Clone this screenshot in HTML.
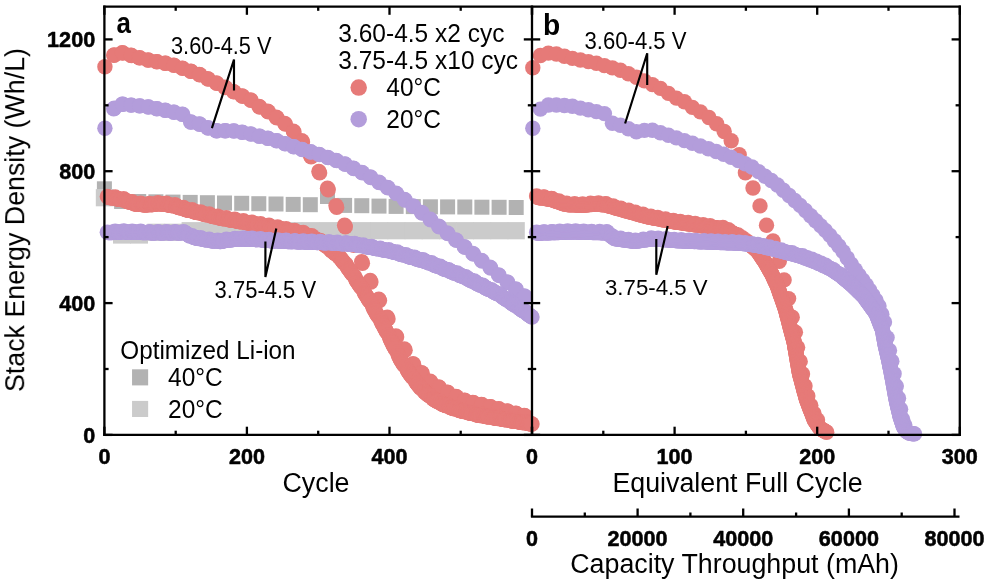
<!DOCTYPE html>
<html><head><meta charset="utf-8"><title>Stack energy density</title>
<style>html,body{margin:0;padding:0;background:#fff}svg{display:block}</style></head>
<body><svg width="986" height="588" viewBox="0 0 986 588">
<rect width="986" height="588" fill="#fff"/>
<g fill="#b2b2b2"><rect x="96.9" y="181.3" width="15.0" height="15.0"/><rect x="114.1" y="194.0" width="15.0" height="15.0"/><rect x="131.2" y="194.0" width="15.0" height="15.0"/><rect x="148.4" y="194.3" width="15.0" height="15.0"/><rect x="165.5" y="194.6" width="15.0" height="15.0"/><rect x="182.7" y="194.9" width="15.0" height="15.0"/><rect x="199.9" y="195.2" width="15.0" height="15.0"/><rect x="217.0" y="195.5" width="15.0" height="15.0"/><rect x="234.2" y="195.8" width="15.0" height="15.0"/><rect x="251.3" y="196.2" width="15.0" height="15.0"/><rect x="268.5" y="196.5" width="15.0" height="15.0"/><rect x="285.7" y="196.9" width="15.0" height="15.0"/><rect x="302.8" y="197.2" width="15.0" height="15.0"/><rect x="320.0" y="189.0" width="15.0" height="15.0"/><rect x="337.1" y="197.9" width="15.0" height="15.0"/><rect x="354.3" y="198.2" width="15.0" height="15.0"/><rect x="371.5" y="198.6" width="15.0" height="15.0"/><rect x="388.6" y="198.9" width="15.0" height="15.0"/><rect x="405.8" y="199.1" width="15.0" height="15.0"/><rect x="422.9" y="199.3" width="15.0" height="15.0"/><rect x="440.1" y="199.4" width="15.0" height="15.0"/><rect x="457.3" y="199.5" width="15.0" height="15.0"/><rect x="474.4" y="199.7" width="15.0" height="15.0"/><rect x="491.6" y="199.8" width="15.0" height="15.0"/><rect x="508.7" y="200.0" width="15.0" height="15.0"/></g><g fill="#cbcbcb"><rect x="95.8" y="189.1" width="17.9" height="17.2"/><rect x="113.0" y="226.4" width="17.9" height="17.2"/><rect x="130.1" y="226.4" width="17.9" height="17.2"/><rect x="147.3" y="223.7" width="17.9" height="17.2"/><rect x="164.4" y="223.7" width="17.9" height="17.2"/><rect x="181.6" y="222.1" width="17.9" height="17.2"/><rect x="198.8" y="222.1" width="17.9" height="17.2"/><rect x="215.9" y="222.1" width="17.9" height="17.2"/><rect x="233.1" y="222.1" width="17.9" height="17.2"/><rect x="250.2" y="222.1" width="17.9" height="17.2"/><rect x="267.4" y="222.1" width="17.9" height="17.2"/><rect x="284.6" y="222.1" width="17.9" height="17.2"/><rect x="301.7" y="222.1" width="17.9" height="17.2"/><rect x="318.9" y="222.1" width="17.9" height="17.2"/><rect x="336.0" y="222.1" width="17.9" height="17.2"/><rect x="353.2" y="222.1" width="17.9" height="17.2"/><rect x="370.4" y="222.1" width="17.9" height="17.2"/><rect x="387.5" y="222.1" width="17.9" height="17.2"/><rect x="404.7" y="222.1" width="17.9" height="17.2"/><rect x="421.8" y="222.1" width="17.9" height="17.2"/><rect x="439.0" y="222.1" width="17.9" height="17.2"/><rect x="456.2" y="222.1" width="17.9" height="17.2"/><rect x="473.3" y="222.1" width="17.9" height="17.2"/><rect x="490.5" y="222.1" width="17.9" height="17.2"/><rect x="507.6" y="222.1" width="17.2" height="17.2"/></g><circle cx="104.9" cy="66.8" r="7.7" fill="#e67a78"/><g fill="#e67a78"><circle cx="113.7" cy="55.3" r="7.7"/><circle cx="114.4" cy="55.0" r="7.7"/><circle cx="122.2" cy="52.8" r="7.7"/><circle cx="122.9" cy="53.0" r="7.7"/><circle cx="130.8" cy="55.3" r="7.7"/><circle cx="131.5" cy="55.5" r="7.7"/><circle cx="139.3" cy="57.7" r="7.7"/><circle cx="140.0" cy="57.9" r="7.7"/><circle cx="147.9" cy="60.0" r="7.7"/><circle cx="148.6" cy="60.1" r="7.7"/><circle cx="156.4" cy="61.6" r="7.7"/><circle cx="157.1" cy="61.7" r="7.7"/><circle cx="165.0" cy="63.2" r="7.7"/><circle cx="165.7" cy="63.3" r="7.7"/><circle cx="173.5" cy="65.1" r="7.7"/><circle cx="174.2" cy="65.4" r="7.7"/><circle cx="182.1" cy="68.1" r="7.7"/><circle cx="182.8" cy="68.4" r="7.7"/><circle cx="190.6" cy="71.2" r="7.7"/><circle cx="191.3" cy="71.4" r="7.7"/><circle cx="199.2" cy="74.5" r="7.7"/><circle cx="199.9" cy="74.8" r="7.7"/><circle cx="207.7" cy="78.7" r="7.7"/><circle cx="208.4" cy="79.1" r="7.7"/><circle cx="216.3" cy="83.0" r="7.7"/><circle cx="217.0" cy="83.4" r="7.7"/><circle cx="224.8" cy="87.3" r="7.7"/><circle cx="225.6" cy="87.6" r="7.7"/><circle cx="233.4" cy="91.6" r="7.7"/><circle cx="234.1" cy="91.9" r="7.7"/><circle cx="241.9" cy="95.9" r="7.7"/><circle cx="242.7" cy="96.2" r="7.7"/><circle cx="250.5" cy="100.0" r="7.7"/><circle cx="251.2" cy="100.4" r="7.7"/><circle cx="259.0" cy="106.5" r="7.7"/><circle cx="259.8" cy="107.0" r="7.7"/><circle cx="267.6" cy="111.2" r="7.7"/><circle cx="268.3" cy="111.7" r="7.7"/><circle cx="276.2" cy="117.2" r="7.7"/><circle cx="276.9" cy="117.8" r="7.7"/><circle cx="284.7" cy="123.5" r="7.7"/><circle cx="285.4" cy="124.1" r="7.7"/><circle cx="293.3" cy="131.1" r="7.7"/><circle cx="294.0" cy="131.9" r="7.7"/><circle cx="301.8" cy="140.7" r="7.7"/><circle cx="302.5" cy="141.9" r="7.7"/><circle cx="310.4" cy="155.3" r="7.7"/><circle cx="311.1" cy="156.7" r="7.7"/><circle cx="318.9" cy="171.5" r="7.7"/><circle cx="319.6" cy="172.9" r="7.7"/><circle cx="327.5" cy="188.3" r="7.7"/><circle cx="328.2" cy="189.8" r="7.7"/><circle cx="336.0" cy="205.8" r="7.7"/><circle cx="336.7" cy="207.4" r="7.7"/><circle cx="344.6" cy="225.2" r="7.7"/><circle cx="345.3" cy="226.7" r="7.7"/><circle cx="353.1" cy="243.7" r="7.7"/><circle cx="353.8" cy="245.2" r="7.7"/><circle cx="361.7" cy="261.6" r="7.7"/><circle cx="362.4" cy="263.2" r="7.7"/><circle cx="370.2" cy="280.5" r="7.7"/><circle cx="370.9" cy="282.0" r="7.7"/><circle cx="378.8" cy="299.1" r="7.7"/><circle cx="379.5" cy="300.6" r="7.7"/><circle cx="387.3" cy="317.3" r="7.7"/><circle cx="388.0" cy="318.9" r="7.7"/><circle cx="395.9" cy="335.9" r="7.7"/><circle cx="396.6" cy="337.0" r="7.7"/><circle cx="404.4" cy="348.9" r="7.7"/><circle cx="405.1" cy="350.2" r="7.7"/><circle cx="413.0" cy="363.8" r="7.7"/><circle cx="413.7" cy="364.5" r="7.7"/><circle cx="421.5" cy="372.6" r="7.7"/><circle cx="422.2" cy="373.3" r="7.7"/><circle cx="430.1" cy="381.2" r="7.7"/><circle cx="430.8" cy="381.9" r="7.7"/><circle cx="438.6" cy="386.9" r="7.7"/><circle cx="439.4" cy="387.4" r="7.7"/><circle cx="447.2" cy="392.1" r="7.7"/><circle cx="447.9" cy="392.5" r="7.7"/><circle cx="455.7" cy="396.4" r="7.7"/><circle cx="456.5" cy="396.8" r="7.7"/><circle cx="464.3" cy="400.3" r="7.7"/><circle cx="465.0" cy="400.5" r="7.7"/><circle cx="472.8" cy="402.4" r="7.7"/><circle cx="473.6" cy="402.6" r="7.7"/><circle cx="481.4" cy="404.5" r="7.7"/><circle cx="482.1" cy="404.7" r="7.7"/><circle cx="490.0" cy="406.6" r="7.7"/><circle cx="490.7" cy="406.8" r="7.7"/><circle cx="498.5" cy="408.7" r="7.7"/><circle cx="499.2" cy="408.9" r="7.7"/><circle cx="507.1" cy="410.9" r="7.7"/><circle cx="507.8" cy="411.1" r="7.7"/><circle cx="515.6" cy="413.2" r="7.7"/><circle cx="516.3" cy="413.4" r="7.7"/><circle cx="524.2" cy="415.5" r="7.7"/><circle cx="524.9" cy="415.7" r="7.7"/></g><g fill="#e67a78"><circle cx="107.3" cy="196.4" r="7.7"/><circle cx="108.0" cy="197.1" r="7.7"/><circle cx="108.7" cy="197.3" r="7.7"/><circle cx="109.4" cy="197.4" r="7.7"/><circle cx="110.1" cy="197.5" r="7.7"/><circle cx="110.8" cy="197.7" r="7.7"/><circle cx="111.5" cy="197.8" r="7.7"/><circle cx="112.2" cy="197.9" r="7.7"/><circle cx="113.0" cy="198.0" r="7.7"/><circle cx="115.1" cy="197.0" r="7.7"/><circle cx="115.8" cy="198.0" r="7.7"/><circle cx="116.5" cy="198.7" r="7.7"/><circle cx="117.2" cy="198.8" r="7.7"/><circle cx="117.9" cy="199.0" r="7.7"/><circle cx="118.7" cy="199.1" r="7.7"/><circle cx="119.4" cy="199.2" r="7.7"/><circle cx="120.1" cy="199.4" r="7.7"/><circle cx="120.8" cy="199.5" r="7.7"/><circle cx="121.5" cy="199.6" r="7.7"/><circle cx="123.6" cy="198.8" r="7.7"/><circle cx="124.4" cy="199.8" r="7.7"/><circle cx="125.1" cy="200.6" r="7.7"/><circle cx="125.8" cy="200.9" r="7.7"/><circle cx="126.5" cy="201.1" r="7.7"/><circle cx="127.2" cy="201.3" r="7.7"/><circle cx="127.9" cy="201.6" r="7.7"/><circle cx="128.6" cy="201.8" r="7.7"/><circle cx="129.3" cy="202.0" r="7.7"/><circle cx="130.1" cy="202.3" r="7.7"/><circle cx="132.2" cy="201.6" r="7.7"/><circle cx="132.9" cy="202.6" r="7.7"/><circle cx="133.6" cy="203.4" r="7.7"/><circle cx="134.3" cy="203.7" r="7.7"/><circle cx="135.0" cy="203.9" r="7.7"/><circle cx="135.8" cy="204.0" r="7.7"/><circle cx="136.5" cy="204.1" r="7.7"/><circle cx="137.2" cy="204.2" r="7.7"/><circle cx="137.9" cy="204.2" r="7.7"/><circle cx="138.6" cy="204.3" r="7.7"/><circle cx="140.7" cy="203.1" r="7.7"/><circle cx="141.5" cy="203.9" r="7.7"/><circle cx="142.2" cy="204.6" r="7.7"/><circle cx="142.9" cy="204.7" r="7.7"/><circle cx="143.6" cy="204.7" r="7.7"/><circle cx="144.3" cy="204.8" r="7.7"/><circle cx="145.0" cy="204.8" r="7.7"/><circle cx="145.7" cy="204.9" r="7.7"/><circle cx="146.4" cy="205.0" r="7.7"/><circle cx="147.2" cy="205.0" r="7.7"/><circle cx="149.3" cy="203.4" r="7.7"/><circle cx="150.0" cy="204.1" r="7.7"/><circle cx="150.7" cy="204.7" r="7.7"/><circle cx="151.4" cy="204.6" r="7.7"/><circle cx="152.1" cy="204.6" r="7.7"/><circle cx="152.9" cy="204.5" r="7.7"/><circle cx="153.6" cy="204.4" r="7.7"/><circle cx="154.3" cy="204.4" r="7.7"/><circle cx="155.0" cy="204.3" r="7.7"/><circle cx="155.7" cy="204.3" r="7.7"/><circle cx="157.9" cy="202.7" r="7.7"/><circle cx="158.6" cy="203.4" r="7.7"/><circle cx="159.3" cy="204.0" r="7.7"/><circle cx="160.0" cy="203.9" r="7.7"/><circle cx="160.7" cy="203.9" r="7.7"/><circle cx="161.4" cy="203.8" r="7.7"/><circle cx="162.1" cy="203.9" r="7.7"/><circle cx="162.8" cy="204.0" r="7.7"/><circle cx="163.6" cy="204.2" r="7.7"/><circle cx="164.3" cy="204.3" r="7.7"/><circle cx="166.4" cy="203.2" r="7.7"/><circle cx="167.1" cy="204.2" r="7.7"/><circle cx="167.8" cy="204.9" r="7.7"/><circle cx="168.5" cy="205.0" r="7.7"/><circle cx="169.3" cy="205.1" r="7.7"/><circle cx="170.0" cy="205.2" r="7.7"/><circle cx="170.7" cy="205.4" r="7.7"/><circle cx="171.4" cy="205.5" r="7.7"/><circle cx="172.1" cy="205.6" r="7.7"/><circle cx="172.8" cy="205.7" r="7.7"/><circle cx="175.0" cy="204.8" r="7.7"/><circle cx="175.7" cy="205.8" r="7.7"/><circle cx="176.4" cy="206.6" r="7.7"/><circle cx="177.1" cy="206.8" r="7.7"/><circle cx="177.8" cy="207.0" r="7.7"/><circle cx="178.5" cy="207.3" r="7.7"/><circle cx="179.2" cy="207.5" r="7.7"/><circle cx="179.9" cy="207.7" r="7.7"/><circle cx="180.7" cy="207.9" r="7.7"/><circle cx="181.4" cy="208.1" r="7.7"/><circle cx="183.5" cy="207.4" r="7.7"/><circle cx="184.2" cy="208.4" r="7.7"/><circle cx="184.9" cy="209.2" r="7.7"/><circle cx="185.6" cy="209.5" r="7.7"/><circle cx="186.4" cy="209.7" r="7.7"/><circle cx="187.1" cy="209.9" r="7.7"/><circle cx="187.8" cy="210.1" r="7.7"/><circle cx="188.5" cy="210.3" r="7.7"/><circle cx="189.2" cy="210.4" r="7.7"/><circle cx="189.9" cy="210.6" r="7.7"/><circle cx="192.1" cy="209.8" r="7.7"/><circle cx="192.8" cy="210.7" r="7.7"/><circle cx="193.5" cy="211.5" r="7.7"/><circle cx="194.2" cy="211.7" r="7.7"/><circle cx="194.9" cy="211.9" r="7.7"/><circle cx="195.6" cy="212.0" r="7.7"/><circle cx="196.3" cy="212.2" r="7.7"/><circle cx="197.0" cy="212.4" r="7.7"/><circle cx="197.8" cy="212.6" r="7.7"/><circle cx="198.5" cy="212.7" r="7.7"/><circle cx="200.6" cy="211.9" r="7.7"/><circle cx="201.3" cy="212.8" r="7.7"/><circle cx="202.0" cy="213.6" r="7.7"/><circle cx="202.7" cy="213.8" r="7.7"/><circle cx="203.5" cy="214.0" r="7.7"/><circle cx="204.2" cy="214.1" r="7.7"/><circle cx="204.9" cy="214.3" r="7.7"/><circle cx="205.6" cy="214.5" r="7.7"/><circle cx="206.3" cy="214.7" r="7.7"/><circle cx="207.0" cy="214.8" r="7.7"/><circle cx="209.2" cy="214.0" r="7.7"/><circle cx="209.9" cy="214.9" r="7.7"/><circle cx="210.6" cy="215.7" r="7.7"/><circle cx="211.3" cy="215.9" r="7.7"/><circle cx="212.0" cy="216.1" r="7.7"/><circle cx="212.7" cy="216.3" r="7.7"/><circle cx="213.4" cy="216.4" r="7.7"/><circle cx="214.2" cy="216.6" r="7.7"/><circle cx="214.9" cy="216.8" r="7.7"/><circle cx="215.6" cy="217.0" r="7.7"/><circle cx="217.7" cy="216.1" r="7.7"/><circle cx="218.4" cy="217.1" r="7.7"/><circle cx="219.1" cy="217.8" r="7.7"/><circle cx="219.9" cy="218.0" r="7.7"/><circle cx="220.6" cy="218.1" r="7.7"/><circle cx="221.3" cy="218.3" r="7.7"/><circle cx="222.0" cy="218.4" r="7.7"/><circle cx="222.7" cy="218.5" r="7.7"/><circle cx="223.4" cy="218.7" r="7.7"/><circle cx="224.1" cy="218.8" r="7.7"/><circle cx="226.3" cy="217.8" r="7.7"/><circle cx="227.0" cy="218.7" r="7.7"/><circle cx="227.7" cy="219.4" r="7.7"/><circle cx="228.4" cy="219.6" r="7.7"/><circle cx="229.1" cy="219.7" r="7.7"/><circle cx="229.8" cy="219.8" r="7.7"/><circle cx="230.5" cy="219.9" r="7.7"/><circle cx="231.3" cy="220.1" r="7.7"/><circle cx="232.0" cy="220.2" r="7.7"/><circle cx="232.7" cy="220.3" r="7.7"/><circle cx="234.8" cy="219.3" r="7.7"/><circle cx="235.5" cy="220.3" r="7.7"/><circle cx="236.2" cy="221.0" r="7.7"/><circle cx="237.0" cy="221.1" r="7.7"/><circle cx="237.7" cy="221.2" r="7.7"/><circle cx="238.4" cy="221.4" r="7.7"/><circle cx="239.1" cy="221.5" r="7.7"/><circle cx="239.8" cy="221.6" r="7.7"/><circle cx="240.5" cy="221.7" r="7.7"/><circle cx="241.2" cy="221.8" r="7.7"/><circle cx="243.4" cy="220.8" r="7.7"/><circle cx="244.1" cy="221.7" r="7.7"/><circle cx="244.8" cy="222.4" r="7.7"/><circle cx="245.5" cy="222.5" r="7.7"/><circle cx="246.2" cy="222.6" r="7.7"/><circle cx="246.9" cy="222.7" r="7.7"/><circle cx="247.6" cy="222.9" r="7.7"/><circle cx="248.4" cy="223.0" r="7.7"/><circle cx="249.1" cy="223.1" r="7.7"/><circle cx="249.8" cy="223.2" r="7.7"/><circle cx="251.9" cy="222.2" r="7.7"/><circle cx="252.6" cy="223.1" r="7.7"/><circle cx="253.3" cy="223.8" r="7.7"/><circle cx="254.1" cy="223.9" r="7.7"/><circle cx="254.8" cy="224.0" r="7.7"/><circle cx="255.5" cy="224.1" r="7.7"/><circle cx="256.2" cy="224.3" r="7.7"/><circle cx="256.9" cy="224.4" r="7.7"/><circle cx="257.6" cy="224.5" r="7.7"/><circle cx="258.3" cy="224.7" r="7.7"/><circle cx="260.5" cy="223.7" r="7.7"/><circle cx="261.2" cy="224.6" r="7.7"/><circle cx="261.9" cy="225.4" r="7.7"/><circle cx="262.6" cy="225.5" r="7.7"/><circle cx="263.3" cy="225.6" r="7.7"/><circle cx="264.0" cy="225.8" r="7.7"/><circle cx="264.8" cy="225.9" r="7.7"/><circle cx="265.5" cy="226.0" r="7.7"/><circle cx="266.2" cy="226.2" r="7.7"/><circle cx="266.9" cy="226.3" r="7.7"/><circle cx="269.0" cy="225.3" r="7.7"/><circle cx="269.7" cy="226.2" r="7.7"/><circle cx="270.5" cy="227.0" r="7.7"/><circle cx="271.2" cy="227.1" r="7.7"/><circle cx="271.9" cy="227.3" r="7.7"/><circle cx="272.6" cy="227.4" r="7.7"/><circle cx="273.3" cy="227.5" r="7.7"/><circle cx="274.0" cy="227.7" r="7.7"/><circle cx="274.7" cy="227.8" r="7.7"/><circle cx="275.4" cy="227.9" r="7.7"/><circle cx="277.6" cy="227.0" r="7.7"/><circle cx="278.3" cy="227.9" r="7.7"/><circle cx="279.0" cy="228.6" r="7.7"/><circle cx="279.7" cy="228.8" r="7.7"/><circle cx="280.4" cy="228.9" r="7.7"/><circle cx="281.1" cy="229.1" r="7.7"/><circle cx="281.9" cy="229.2" r="7.7"/><circle cx="282.6" cy="229.3" r="7.7"/><circle cx="283.3" cy="229.5" r="7.7"/><circle cx="284.0" cy="229.6" r="7.7"/><circle cx="286.1" cy="228.6" r="7.7"/><circle cx="286.8" cy="229.6" r="7.7"/><circle cx="287.6" cy="230.3" r="7.7"/><circle cx="288.3" cy="230.5" r="7.7"/><circle cx="289.0" cy="230.6" r="7.7"/><circle cx="289.7" cy="230.8" r="7.7"/><circle cx="290.4" cy="230.9" r="7.7"/><circle cx="291.1" cy="231.1" r="7.7"/><circle cx="291.8" cy="231.2" r="7.7"/><circle cx="292.5" cy="231.4" r="7.7"/><circle cx="294.7" cy="230.4" r="7.7"/><circle cx="295.4" cy="231.4" r="7.7"/><circle cx="296.1" cy="232.1" r="7.7"/><circle cx="296.8" cy="232.3" r="7.7"/><circle cx="297.5" cy="232.4" r="7.7"/><circle cx="298.2" cy="232.6" r="7.7"/><circle cx="299.0" cy="232.7" r="7.7"/><circle cx="299.7" cy="232.9" r="7.7"/><circle cx="300.4" cy="233.0" r="7.7"/><circle cx="301.1" cy="233.2" r="7.7"/><circle cx="303.2" cy="232.5" r="7.7"/><circle cx="303.9" cy="233.6" r="7.7"/><circle cx="304.7" cy="234.4" r="7.7"/><circle cx="305.4" cy="234.7" r="7.7"/><circle cx="306.1" cy="235.0" r="7.7"/><circle cx="306.8" cy="235.2" r="7.7"/><circle cx="307.5" cy="235.5" r="7.7"/><circle cx="308.2" cy="235.8" r="7.7"/><circle cx="308.9" cy="236.0" r="7.7"/><circle cx="309.6" cy="236.3" r="7.7"/><circle cx="311.8" cy="235.8" r="7.7"/><circle cx="312.5" cy="237.0" r="7.7"/><circle cx="313.2" cy="237.9" r="7.7"/><circle cx="313.9" cy="238.3" r="7.7"/><circle cx="314.6" cy="238.7" r="7.7"/><circle cx="315.3" cy="239.0" r="7.7"/><circle cx="316.1" cy="239.4" r="7.7"/><circle cx="316.8" cy="239.8" r="7.7"/><circle cx="317.5" cy="240.1" r="7.7"/><circle cx="318.2" cy="240.5" r="7.7"/><circle cx="320.3" cy="240.4" r="7.7"/><circle cx="321.1" cy="241.7" r="7.7"/><circle cx="321.8" cy="242.7" r="7.7"/><circle cx="322.5" cy="243.1" r="7.7"/><circle cx="323.2" cy="243.6" r="7.7"/><circle cx="323.9" cy="244.1" r="7.7"/><circle cx="324.6" cy="244.7" r="7.7"/><circle cx="325.3" cy="245.3" r="7.7"/><circle cx="326.0" cy="245.9" r="7.7"/><circle cx="326.8" cy="246.5" r="7.7"/><circle cx="328.9" cy="246.9" r="7.7"/><circle cx="329.6" cy="248.3" r="7.7"/><circle cx="330.3" cy="249.5" r="7.7"/><circle cx="331.0" cy="250.1" r="7.7"/><circle cx="331.7" cy="250.7" r="7.7"/><circle cx="332.5" cy="251.3" r="7.7"/><circle cx="333.2" cy="251.9" r="7.7"/><circle cx="333.9" cy="252.5" r="7.7"/><circle cx="334.6" cy="253.1" r="7.7"/><circle cx="335.3" cy="253.7" r="7.7"/><circle cx="337.4" cy="254.1" r="7.7"/><circle cx="338.2" cy="255.5" r="7.7"/><circle cx="338.9" cy="256.7" r="7.7"/><circle cx="339.6" cy="257.3" r="7.7"/><circle cx="340.3" cy="257.9" r="7.7"/><circle cx="341.0" cy="258.9" r="7.7"/><circle cx="341.7" cy="259.8" r="7.7"/><circle cx="342.4" cy="260.8" r="7.7"/><circle cx="343.1" cy="261.7" r="7.7"/><circle cx="343.9" cy="262.7" r="7.7"/><circle cx="346.0" cy="264.1" r="7.7"/><circle cx="346.7" cy="265.9" r="7.7"/><circle cx="347.4" cy="267.4" r="7.7"/><circle cx="348.1" cy="268.4" r="7.7"/><circle cx="348.8" cy="269.4" r="7.7"/><circle cx="349.6" cy="270.3" r="7.7"/><circle cx="350.3" cy="271.3" r="7.7"/><circle cx="351.0" cy="272.3" r="7.7"/><circle cx="351.7" cy="273.3" r="7.7"/><circle cx="352.4" cy="274.4" r="7.7"/><circle cx="354.5" cy="276.2" r="7.7"/><circle cx="355.3" cy="278.1" r="7.7"/><circle cx="356.0" cy="279.8" r="7.7"/><circle cx="356.7" cy="280.9" r="7.7"/><circle cx="357.4" cy="281.9" r="7.7"/><circle cx="358.1" cy="283.0" r="7.7"/><circle cx="358.8" cy="284.1" r="7.7"/><circle cx="359.5" cy="285.1" r="7.7"/><circle cx="360.2" cy="286.2" r="7.7"/><circle cx="361.0" cy="287.3" r="7.7"/><circle cx="363.1" cy="289.3" r="7.7"/><circle cx="363.8" cy="291.3" r="7.7"/><circle cx="364.5" cy="293.0" r="7.7"/><circle cx="365.2" cy="294.1" r="7.7"/><circle cx="365.9" cy="295.3" r="7.7"/><circle cx="366.7" cy="296.4" r="7.7"/><circle cx="367.4" cy="297.6" r="7.7"/><circle cx="368.1" cy="298.7" r="7.7"/><circle cx="368.8" cy="299.8" r="7.7"/><circle cx="369.5" cy="301.0" r="7.7"/><circle cx="371.6" cy="303.5" r="7.7"/><circle cx="372.4" cy="305.5" r="7.7"/><circle cx="373.1" cy="307.4" r="7.7"/><circle cx="373.8" cy="308.7" r="7.7"/><circle cx="374.5" cy="310.0" r="7.7"/><circle cx="375.2" cy="311.3" r="7.7"/><circle cx="375.9" cy="312.6" r="7.7"/><circle cx="376.6" cy="313.9" r="7.7"/><circle cx="377.4" cy="315.1" r="7.7"/><circle cx="378.1" cy="316.4" r="7.7"/><circle cx="380.2" cy="318.7" r="7.7"/><circle cx="380.9" cy="320.8" r="7.7"/><circle cx="381.6" cy="322.6" r="7.7"/><circle cx="382.3" cy="323.8" r="7.7"/><circle cx="383.1" cy="325.1" r="7.7"/><circle cx="383.8" cy="326.3" r="7.7"/><circle cx="384.5" cy="327.7" r="7.7"/><circle cx="385.2" cy="329.1" r="7.7"/><circle cx="385.9" cy="330.5" r="7.7"/><circle cx="386.6" cy="331.9" r="7.7"/><circle cx="388.8" cy="334.8" r="7.7"/><circle cx="389.5" cy="337.0" r="7.7"/><circle cx="390.2" cy="339.0" r="7.7"/><circle cx="390.9" cy="340.4" r="7.7"/><circle cx="391.6" cy="341.8" r="7.7"/><circle cx="392.3" cy="343.2" r="7.7"/><circle cx="393.0" cy="344.7" r="7.7"/><circle cx="393.7" cy="346.1" r="7.7"/><circle cx="394.5" cy="347.5" r="7.7"/><circle cx="395.2" cy="349.0" r="7.7"/><circle cx="397.3" cy="351.9" r="7.7"/><circle cx="398.0" cy="354.1" r="7.7"/><circle cx="398.7" cy="356.1" r="7.7"/><circle cx="399.4" cy="357.6" r="7.7"/><circle cx="400.2" cy="359.0" r="7.7"/><circle cx="400.9" cy="360.4" r="7.7"/><circle cx="401.6" cy="361.5" r="7.7"/><circle cx="402.3" cy="362.5" r="7.7"/><circle cx="403.0" cy="363.6" r="7.7"/><circle cx="403.7" cy="364.7" r="7.7"/><circle cx="405.9" cy="366.5" r="7.7"/><circle cx="406.6" cy="368.4" r="7.7"/><circle cx="407.3" cy="370.1" r="7.7"/><circle cx="408.0" cy="371.1" r="7.7"/><circle cx="408.7" cy="372.2" r="7.7"/><circle cx="409.4" cy="373.3" r="7.7"/><circle cx="410.1" cy="374.3" r="7.7"/><circle cx="410.8" cy="375.4" r="7.7"/><circle cx="411.6" cy="376.3" r="7.7"/><circle cx="412.3" cy="377.2" r="7.7"/><circle cx="414.4" cy="378.6" r="7.7"/><circle cx="415.1" cy="380.4" r="7.7"/><circle cx="415.8" cy="381.9" r="7.7"/><circle cx="416.5" cy="382.8" r="7.7"/><circle cx="417.3" cy="383.7" r="7.7"/><circle cx="418.0" cy="384.7" r="7.7"/><circle cx="418.7" cy="385.6" r="7.7"/><circle cx="419.4" cy="386.5" r="7.7"/><circle cx="420.1" cy="387.5" r="7.7"/><circle cx="420.8" cy="388.4" r="7.7"/><circle cx="423.0" cy="389.1" r="7.7"/><circle cx="423.7" cy="390.5" r="7.7"/><circle cx="424.4" cy="391.7" r="7.7"/><circle cx="425.1" cy="392.3" r="7.7"/><circle cx="425.8" cy="392.9" r="7.7"/><circle cx="426.5" cy="393.5" r="7.7"/><circle cx="427.2" cy="394.1" r="7.7"/><circle cx="428.0" cy="394.7" r="7.7"/><circle cx="428.7" cy="395.3" r="7.7"/><circle cx="429.4" cy="395.9" r="7.7"/><circle cx="431.5" cy="396.2" r="7.7"/><circle cx="432.2" cy="397.6" r="7.7"/><circle cx="432.9" cy="398.8" r="7.7"/><circle cx="433.7" cy="399.2" r="7.7"/><circle cx="434.4" cy="399.6" r="7.7"/><circle cx="435.1" cy="400.1" r="7.7"/><circle cx="435.8" cy="400.5" r="7.7"/><circle cx="436.5" cy="400.9" r="7.7"/><circle cx="437.2" cy="401.3" r="7.7"/><circle cx="437.9" cy="401.7" r="7.7"/><circle cx="440.1" cy="401.5" r="7.7"/><circle cx="440.8" cy="402.7" r="7.7"/><circle cx="441.5" cy="403.7" r="7.7"/><circle cx="442.2" cy="404.0" r="7.7"/><circle cx="442.9" cy="404.3" r="7.7"/><circle cx="443.6" cy="404.6" r="7.7"/><circle cx="444.3" cy="404.9" r="7.7"/><circle cx="445.1" cy="405.2" r="7.7"/><circle cx="445.8" cy="405.5" r="7.7"/><circle cx="446.5" cy="405.8" r="7.7"/><circle cx="448.6" cy="405.3" r="7.7"/><circle cx="449.3" cy="406.3" r="7.7"/><circle cx="450.0" cy="407.2" r="7.7"/><circle cx="450.8" cy="407.5" r="7.7"/><circle cx="451.5" cy="407.8" r="7.7"/><circle cx="452.2" cy="408.0" r="7.7"/><circle cx="452.9" cy="408.2" r="7.7"/><circle cx="453.6" cy="408.5" r="7.7"/><circle cx="454.3" cy="408.7" r="7.7"/><circle cx="455.0" cy="408.9" r="7.7"/><circle cx="457.2" cy="408.2" r="7.7"/><circle cx="457.9" cy="409.3" r="7.7"/><circle cx="458.6" cy="410.1" r="7.7"/><circle cx="459.3" cy="410.3" r="7.7"/><circle cx="460.0" cy="410.6" r="7.7"/><circle cx="460.7" cy="410.8" r="7.7"/><circle cx="461.4" cy="410.9" r="7.7"/><circle cx="462.2" cy="411.1" r="7.7"/><circle cx="462.9" cy="411.3" r="7.7"/><circle cx="463.6" cy="411.5" r="7.7"/><circle cx="465.7" cy="410.6" r="7.7"/><circle cx="466.4" cy="411.6" r="7.7"/><circle cx="467.1" cy="412.4" r="7.7"/><circle cx="467.9" cy="412.5" r="7.7"/><circle cx="468.6" cy="412.7" r="7.7"/><circle cx="469.3" cy="412.9" r="7.7"/><circle cx="470.0" cy="413.1" r="7.7"/><circle cx="470.7" cy="413.2" r="7.7"/><circle cx="471.4" cy="413.4" r="7.7"/><circle cx="472.1" cy="413.6" r="7.7"/><circle cx="474.3" cy="412.7" r="7.7"/><circle cx="475.0" cy="413.7" r="7.7"/><circle cx="475.7" cy="414.5" r="7.7"/><circle cx="476.4" cy="414.7" r="7.7"/><circle cx="477.1" cy="414.8" r="7.7"/><circle cx="477.8" cy="415.0" r="7.7"/><circle cx="478.5" cy="415.2" r="7.7"/><circle cx="479.3" cy="415.3" r="7.7"/><circle cx="480.0" cy="415.5" r="7.7"/><circle cx="480.7" cy="415.6" r="7.7"/><circle cx="482.8" cy="414.5" r="7.7"/><circle cx="483.5" cy="415.5" r="7.7"/><circle cx="484.3" cy="416.2" r="7.7"/><circle cx="485.0" cy="416.3" r="7.7"/><circle cx="485.7" cy="416.4" r="7.7"/><circle cx="486.4" cy="416.5" r="7.7"/><circle cx="487.1" cy="416.7" r="7.7"/><circle cx="487.8" cy="416.8" r="7.7"/><circle cx="488.5" cy="416.9" r="7.7"/><circle cx="489.2" cy="417.0" r="7.7"/><circle cx="491.4" cy="416.0" r="7.7"/><circle cx="492.1" cy="416.9" r="7.7"/><circle cx="492.8" cy="417.6" r="7.7"/><circle cx="493.5" cy="417.7" r="7.7"/><circle cx="494.2" cy="417.9" r="7.7"/><circle cx="494.9" cy="418.0" r="7.7"/><circle cx="495.7" cy="418.1" r="7.7"/><circle cx="496.4" cy="418.2" r="7.7"/><circle cx="497.1" cy="418.3" r="7.7"/><circle cx="497.8" cy="418.5" r="7.7"/><circle cx="499.9" cy="417.4" r="7.7"/><circle cx="500.6" cy="418.3" r="7.7"/><circle cx="501.4" cy="419.1" r="7.7"/><circle cx="502.1" cy="419.2" r="7.7"/><circle cx="502.8" cy="419.3" r="7.7"/><circle cx="503.5" cy="419.4" r="7.7"/><circle cx="504.2" cy="419.5" r="7.7"/><circle cx="504.9" cy="419.6" r="7.7"/><circle cx="505.6" cy="419.8" r="7.7"/><circle cx="506.3" cy="419.9" r="7.7"/><circle cx="508.5" cy="418.8" r="7.7"/><circle cx="509.2" cy="419.7" r="7.7"/><circle cx="509.9" cy="420.5" r="7.7"/><circle cx="510.6" cy="420.6" r="7.7"/><circle cx="511.3" cy="420.7" r="7.7"/><circle cx="512.0" cy="420.8" r="7.7"/><circle cx="512.8" cy="420.9" r="7.7"/><circle cx="513.5" cy="421.0" r="7.7"/><circle cx="514.2" cy="421.2" r="7.7"/><circle cx="514.9" cy="421.3" r="7.7"/><circle cx="517.0" cy="420.2" r="7.7"/><circle cx="517.7" cy="421.1" r="7.7"/><circle cx="518.5" cy="421.9" r="7.7"/><circle cx="519.2" cy="422.0" r="7.7"/><circle cx="519.9" cy="422.1" r="7.7"/><circle cx="520.6" cy="422.2" r="7.7"/><circle cx="521.3" cy="422.3" r="7.7"/><circle cx="522.0" cy="422.4" r="7.7"/><circle cx="522.7" cy="422.6" r="7.7"/><circle cx="523.4" cy="422.7" r="7.7"/><circle cx="525.6" cy="421.6" r="7.7"/><circle cx="526.3" cy="422.5" r="7.7"/><circle cx="527.0" cy="423.3" r="7.7"/><circle cx="527.7" cy="423.4" r="7.7"/><circle cx="528.4" cy="423.5" r="7.7"/><circle cx="529.1" cy="423.6" r="7.7"/><circle cx="529.9" cy="423.7" r="7.7"/><circle cx="530.6" cy="423.8" r="7.7"/><circle cx="531.3" cy="424.0" r="7.7"/><circle cx="532.0" cy="424.0" r="7.7"/></g><circle cx="104.9" cy="128.2" r="7.7" fill="#b39ddb"/><g fill="#b39ddb"><circle cx="113.7" cy="108.7" r="7.7"/><circle cx="114.4" cy="108.3" r="7.7"/><circle cx="122.2" cy="104.2" r="7.7"/><circle cx="122.9" cy="104.3" r="7.7"/><circle cx="130.8" cy="105.1" r="7.7"/><circle cx="131.5" cy="105.1" r="7.7"/><circle cx="139.3" cy="105.9" r="7.7"/><circle cx="140.0" cy="105.9" r="7.7"/><circle cx="147.9" cy="106.9" r="7.7"/><circle cx="148.6" cy="107.0" r="7.7"/><circle cx="156.4" cy="108.6" r="7.7"/><circle cx="157.1" cy="108.7" r="7.7"/><circle cx="165.0" cy="110.3" r="7.7"/><circle cx="165.7" cy="110.4" r="7.7"/><circle cx="173.5" cy="112.1" r="7.7"/><circle cx="174.2" cy="112.3" r="7.7"/><circle cx="182.1" cy="114.3" r="7.7"/><circle cx="182.8" cy="114.4" r="7.7"/><circle cx="190.6" cy="122.0" r="7.7"/><circle cx="191.3" cy="122.1" r="7.7"/><circle cx="199.2" cy="124.0" r="7.7"/><circle cx="199.9" cy="124.3" r="7.7"/><circle cx="207.7" cy="127.7" r="7.7"/><circle cx="208.4" cy="128.0" r="7.7"/><circle cx="216.3" cy="130.8" r="7.7"/><circle cx="217.0" cy="130.8" r="7.7"/><circle cx="224.8" cy="130.8" r="7.7"/><circle cx="225.6" cy="130.8" r="7.7"/><circle cx="233.4" cy="130.9" r="7.7"/><circle cx="234.1" cy="131.0" r="7.7"/><circle cx="241.9" cy="132.3" r="7.7"/><circle cx="242.7" cy="132.4" r="7.7"/><circle cx="250.5" cy="133.9" r="7.7"/><circle cx="251.2" cy="134.1" r="7.7"/><circle cx="259.0" cy="136.1" r="7.7"/><circle cx="259.8" cy="136.2" r="7.7"/><circle cx="267.6" cy="138.2" r="7.7"/><circle cx="268.3" cy="138.4" r="7.7"/><circle cx="276.2" cy="140.6" r="7.7"/><circle cx="276.9" cy="140.8" r="7.7"/><circle cx="284.7" cy="143.6" r="7.7"/><circle cx="285.4" cy="143.8" r="7.7"/><circle cx="293.3" cy="146.6" r="7.7"/><circle cx="294.0" cy="146.8" r="7.7"/><circle cx="301.8" cy="149.4" r="7.7"/><circle cx="302.5" cy="149.6" r="7.7"/><circle cx="310.4" cy="151.8" r="7.7"/><circle cx="311.1" cy="152.0" r="7.7"/><circle cx="318.9" cy="154.4" r="7.7"/><circle cx="319.6" cy="154.6" r="7.7"/><circle cx="327.5" cy="157.4" r="7.7"/><circle cx="328.2" cy="157.6" r="7.7"/><circle cx="336.0" cy="160.4" r="7.7"/><circle cx="336.7" cy="160.6" r="7.7"/><circle cx="344.6" cy="163.9" r="7.7"/><circle cx="345.3" cy="164.2" r="7.7"/><circle cx="353.1" cy="168.1" r="7.7"/><circle cx="353.8" cy="168.5" r="7.7"/><circle cx="361.7" cy="172.4" r="7.7"/><circle cx="362.4" cy="172.8" r="7.7"/><circle cx="370.2" cy="177.0" r="7.7"/><circle cx="370.9" cy="177.5" r="7.7"/><circle cx="378.8" cy="182.2" r="7.7"/><circle cx="379.5" cy="182.6" r="7.7"/><circle cx="387.3" cy="187.4" r="7.7"/><circle cx="388.0" cy="187.8" r="7.7"/><circle cx="395.9" cy="193.1" r="7.7"/><circle cx="396.6" cy="193.6" r="7.7"/><circle cx="404.4" cy="199.5" r="7.7"/><circle cx="405.1" cy="200.0" r="7.7"/><circle cx="413.0" cy="205.9" r="7.7"/><circle cx="413.7" cy="206.4" r="7.7"/><circle cx="421.5" cy="212.5" r="7.7"/><circle cx="422.2" cy="213.0" r="7.7"/><circle cx="430.1" cy="219.3" r="7.7"/><circle cx="430.8" cy="219.9" r="7.7"/><circle cx="438.6" cy="226.2" r="7.7"/><circle cx="439.4" cy="226.8" r="7.7"/><circle cx="447.2" cy="233.0" r="7.7"/><circle cx="447.9" cy="233.6" r="7.7"/><circle cx="455.7" cy="239.9" r="7.7"/><circle cx="456.5" cy="240.4" r="7.7"/><circle cx="464.3" cy="246.7" r="7.7"/><circle cx="465.0" cy="247.2" r="7.7"/><circle cx="472.8" cy="253.5" r="7.7"/><circle cx="473.6" cy="254.1" r="7.7"/><circle cx="481.4" cy="260.4" r="7.7"/><circle cx="482.1" cy="261.0" r="7.7"/><circle cx="490.0" cy="267.3" r="7.7"/><circle cx="490.7" cy="268.0" r="7.7"/><circle cx="498.5" cy="274.9" r="7.7"/><circle cx="499.2" cy="275.5" r="7.7"/><circle cx="507.1" cy="281.9" r="7.7"/><circle cx="507.8" cy="282.5" r="7.7"/><circle cx="515.6" cy="288.9" r="7.7"/><circle cx="516.3" cy="289.4" r="7.7"/><circle cx="524.2" cy="295.9" r="7.7"/><circle cx="524.9" cy="296.5" r="7.7"/></g><g fill="#b39ddb"><circle cx="107.3" cy="232.2" r="7.7"/><circle cx="108.0" cy="232.6" r="7.7"/><circle cx="108.7" cy="232.6" r="7.7"/><circle cx="109.4" cy="232.6" r="7.7"/><circle cx="110.1" cy="232.6" r="7.7"/><circle cx="110.8" cy="232.5" r="7.7"/><circle cx="111.5" cy="232.5" r="7.7"/><circle cx="112.2" cy="232.5" r="7.7"/><circle cx="113.0" cy="232.4" r="7.7"/><circle cx="115.1" cy="231.2" r="7.7"/><circle cx="115.8" cy="231.8" r="7.7"/><circle cx="116.5" cy="232.3" r="7.7"/><circle cx="117.2" cy="232.3" r="7.7"/><circle cx="117.9" cy="232.2" r="7.7"/><circle cx="118.7" cy="232.2" r="7.7"/><circle cx="119.4" cy="232.2" r="7.7"/><circle cx="120.1" cy="232.1" r="7.7"/><circle cx="120.8" cy="232.1" r="7.7"/><circle cx="121.5" cy="232.1" r="7.7"/><circle cx="123.6" cy="230.9" r="7.7"/><circle cx="124.4" cy="231.5" r="7.7"/><circle cx="125.1" cy="232.0" r="7.7"/><circle cx="125.8" cy="232.1" r="7.7"/><circle cx="126.5" cy="232.1" r="7.7"/><circle cx="127.2" cy="232.1" r="7.7"/><circle cx="127.9" cy="232.1" r="7.7"/><circle cx="128.6" cy="232.1" r="7.7"/><circle cx="129.3" cy="232.2" r="7.7"/><circle cx="130.1" cy="232.2" r="7.7"/><circle cx="132.2" cy="231.1" r="7.7"/><circle cx="132.9" cy="231.8" r="7.7"/><circle cx="133.6" cy="232.3" r="7.7"/><circle cx="134.3" cy="232.3" r="7.7"/><circle cx="135.0" cy="232.3" r="7.7"/><circle cx="135.8" cy="232.3" r="7.7"/><circle cx="136.5" cy="232.3" r="7.7"/><circle cx="137.2" cy="232.4" r="7.7"/><circle cx="137.9" cy="232.4" r="7.7"/><circle cx="138.6" cy="232.4" r="7.7"/><circle cx="140.7" cy="231.3" r="7.7"/><circle cx="141.5" cy="232.0" r="7.7"/><circle cx="142.2" cy="232.5" r="7.7"/><circle cx="142.9" cy="232.5" r="7.7"/><circle cx="143.6" cy="232.5" r="7.7"/><circle cx="144.3" cy="232.6" r="7.7"/><circle cx="145.0" cy="232.6" r="7.7"/><circle cx="145.7" cy="232.6" r="7.7"/><circle cx="146.4" cy="232.6" r="7.7"/><circle cx="147.2" cy="232.6" r="7.7"/><circle cx="149.3" cy="231.6" r="7.7"/><circle cx="150.0" cy="232.2" r="7.7"/><circle cx="150.7" cy="232.7" r="7.7"/><circle cx="151.4" cy="232.7" r="7.7"/><circle cx="152.1" cy="232.7" r="7.7"/><circle cx="152.9" cy="232.7" r="7.7"/><circle cx="153.6" cy="232.7" r="7.7"/><circle cx="154.3" cy="232.7" r="7.7"/><circle cx="155.0" cy="232.7" r="7.7"/><circle cx="155.7" cy="232.7" r="7.7"/><circle cx="157.9" cy="231.6" r="7.7"/><circle cx="158.6" cy="232.2" r="7.7"/><circle cx="159.3" cy="232.7" r="7.7"/><circle cx="160.0" cy="232.7" r="7.7"/><circle cx="160.7" cy="232.7" r="7.7"/><circle cx="161.4" cy="232.7" r="7.7"/><circle cx="162.1" cy="232.7" r="7.7"/><circle cx="162.8" cy="232.7" r="7.7"/><circle cx="163.6" cy="232.7" r="7.7"/><circle cx="164.3" cy="232.7" r="7.7"/><circle cx="166.4" cy="231.6" r="7.7"/><circle cx="167.1" cy="232.3" r="7.7"/><circle cx="167.8" cy="232.8" r="7.7"/><circle cx="168.5" cy="232.8" r="7.7"/><circle cx="169.3" cy="232.8" r="7.7"/><circle cx="170.0" cy="232.8" r="7.7"/><circle cx="170.7" cy="232.8" r="7.7"/><circle cx="171.4" cy="232.8" r="7.7"/><circle cx="172.1" cy="232.8" r="7.7"/><circle cx="172.8" cy="232.8" r="7.7"/><circle cx="175.0" cy="231.7" r="7.7"/><circle cx="175.7" cy="232.3" r="7.7"/><circle cx="176.4" cy="232.8" r="7.7"/><circle cx="177.1" cy="232.8" r="7.7"/><circle cx="177.8" cy="232.8" r="7.7"/><circle cx="178.5" cy="232.8" r="7.7"/><circle cx="179.2" cy="232.8" r="7.7"/><circle cx="179.9" cy="232.8" r="7.7"/><circle cx="180.7" cy="232.8" r="7.7"/><circle cx="181.4" cy="232.8" r="7.7"/><circle cx="183.5" cy="231.7" r="7.7"/><circle cx="184.2" cy="232.3" r="7.7"/><circle cx="184.9" cy="232.8" r="7.7"/><circle cx="185.6" cy="233.1" r="7.7"/><circle cx="186.4" cy="233.6" r="7.7"/><circle cx="187.1" cy="234.1" r="7.7"/><circle cx="187.8" cy="234.6" r="7.7"/><circle cx="188.5" cy="235.1" r="7.7"/><circle cx="189.2" cy="235.5" r="7.7"/><circle cx="189.9" cy="236.0" r="7.7"/><circle cx="192.1" cy="235.8" r="7.7"/><circle cx="192.8" cy="236.6" r="7.7"/><circle cx="193.5" cy="237.3" r="7.7"/><circle cx="194.2" cy="237.4" r="7.7"/><circle cx="194.9" cy="237.6" r="7.7"/><circle cx="195.6" cy="237.8" r="7.7"/><circle cx="196.3" cy="238.0" r="7.7"/><circle cx="197.0" cy="238.2" r="7.7"/><circle cx="197.8" cy="238.3" r="7.7"/><circle cx="198.5" cy="238.5" r="7.7"/><circle cx="200.6" cy="237.7" r="7.7"/><circle cx="201.3" cy="238.5" r="7.7"/><circle cx="202.0" cy="239.1" r="7.7"/><circle cx="202.7" cy="239.2" r="7.7"/><circle cx="203.5" cy="239.3" r="7.7"/><circle cx="204.2" cy="239.5" r="7.7"/><circle cx="204.9" cy="239.6" r="7.7"/><circle cx="205.6" cy="239.7" r="7.7"/><circle cx="206.3" cy="239.8" r="7.7"/><circle cx="207.0" cy="240.0" r="7.7"/><circle cx="209.2" cy="239.2" r="7.7"/><circle cx="209.9" cy="240.0" r="7.7"/><circle cx="210.6" cy="240.6" r="7.7"/><circle cx="211.3" cy="240.7" r="7.7"/><circle cx="212.0" cy="240.8" r="7.7"/><circle cx="212.7" cy="240.8" r="7.7"/><circle cx="213.4" cy="240.9" r="7.7"/><circle cx="214.2" cy="241.0" r="7.7"/><circle cx="214.9" cy="241.0" r="7.7"/><circle cx="215.6" cy="241.1" r="7.7"/><circle cx="217.7" cy="240.1" r="7.7"/><circle cx="218.4" cy="240.8" r="7.7"/><circle cx="219.1" cy="241.4" r="7.7"/><circle cx="219.9" cy="241.5" r="7.7"/><circle cx="220.6" cy="241.5" r="7.7"/><circle cx="221.3" cy="241.3" r="7.7"/><circle cx="222.0" cy="241.2" r="7.7"/><circle cx="222.7" cy="241.1" r="7.7"/><circle cx="223.4" cy="240.9" r="7.7"/><circle cx="224.1" cy="240.8" r="7.7"/><circle cx="226.3" cy="239.3" r="7.7"/><circle cx="227.0" cy="239.8" r="7.7"/><circle cx="227.7" cy="240.2" r="7.7"/><circle cx="228.4" cy="240.0" r="7.7"/><circle cx="229.1" cy="239.9" r="7.7"/><circle cx="229.8" cy="239.8" r="7.7"/><circle cx="230.5" cy="239.7" r="7.7"/><circle cx="231.3" cy="239.7" r="7.7"/><circle cx="232.0" cy="239.7" r="7.7"/><circle cx="232.7" cy="239.6" r="7.7"/><circle cx="234.8" cy="238.4" r="7.7"/><circle cx="235.5" cy="239.0" r="7.7"/><circle cx="236.2" cy="239.4" r="7.7"/><circle cx="237.0" cy="239.4" r="7.7"/><circle cx="237.7" cy="239.3" r="7.7"/><circle cx="238.4" cy="239.3" r="7.7"/><circle cx="239.1" cy="239.3" r="7.7"/><circle cx="239.8" cy="239.2" r="7.7"/><circle cx="240.5" cy="239.2" r="7.7"/><circle cx="241.2" cy="239.1" r="7.7"/><circle cx="243.4" cy="238.0" r="7.7"/><circle cx="244.1" cy="238.7" r="7.7"/><circle cx="244.8" cy="239.2" r="7.7"/><circle cx="245.5" cy="239.2" r="7.7"/><circle cx="246.2" cy="239.2" r="7.7"/><circle cx="246.9" cy="239.2" r="7.7"/><circle cx="247.6" cy="239.3" r="7.7"/><circle cx="248.4" cy="239.3" r="7.7"/><circle cx="249.1" cy="239.3" r="7.7"/><circle cx="249.8" cy="239.3" r="7.7"/><circle cx="251.9" cy="238.2" r="7.7"/><circle cx="252.6" cy="238.9" r="7.7"/><circle cx="253.3" cy="239.4" r="7.7"/><circle cx="254.1" cy="239.4" r="7.7"/><circle cx="254.8" cy="239.4" r="7.7"/><circle cx="255.5" cy="239.5" r="7.7"/><circle cx="256.2" cy="239.5" r="7.7"/><circle cx="256.9" cy="239.5" r="7.7"/><circle cx="257.6" cy="239.5" r="7.7"/><circle cx="258.3" cy="239.6" r="7.7"/><circle cx="260.5" cy="238.7" r="7.7"/><circle cx="261.2" cy="239.4" r="7.7"/><circle cx="261.9" cy="240.0" r="7.7"/><circle cx="262.6" cy="240.0" r="7.7"/><circle cx="263.3" cy="240.1" r="7.7"/><circle cx="264.0" cy="240.2" r="7.7"/><circle cx="264.8" cy="240.2" r="7.7"/><circle cx="265.5" cy="240.3" r="7.7"/><circle cx="266.2" cy="240.4" r="7.7"/><circle cx="266.9" cy="240.4" r="7.7"/><circle cx="269.0" cy="239.5" r="7.7"/><circle cx="269.7" cy="240.2" r="7.7"/><circle cx="270.5" cy="240.8" r="7.7"/><circle cx="271.2" cy="240.8" r="7.7"/><circle cx="271.9" cy="240.8" r="7.7"/><circle cx="272.6" cy="240.9" r="7.7"/><circle cx="273.3" cy="240.9" r="7.7"/><circle cx="274.0" cy="240.9" r="7.7"/><circle cx="274.7" cy="241.0" r="7.7"/><circle cx="275.4" cy="241.0" r="7.7"/><circle cx="277.6" cy="240.0" r="7.7"/><circle cx="278.3" cy="240.6" r="7.7"/><circle cx="279.0" cy="241.1" r="7.7"/><circle cx="279.7" cy="241.2" r="7.7"/><circle cx="280.4" cy="241.2" r="7.7"/><circle cx="281.1" cy="241.2" r="7.7"/><circle cx="281.9" cy="241.2" r="7.7"/><circle cx="282.6" cy="241.3" r="7.7"/><circle cx="283.3" cy="241.3" r="7.7"/><circle cx="284.0" cy="241.3" r="7.7"/><circle cx="286.1" cy="240.3" r="7.7"/><circle cx="286.8" cy="241.0" r="7.7"/><circle cx="287.6" cy="241.5" r="7.7"/><circle cx="288.3" cy="241.5" r="7.7"/><circle cx="289.0" cy="241.5" r="7.7"/><circle cx="289.7" cy="241.5" r="7.7"/><circle cx="290.4" cy="241.6" r="7.7"/><circle cx="291.1" cy="241.6" r="7.7"/><circle cx="291.8" cy="241.6" r="7.7"/><circle cx="292.5" cy="241.7" r="7.7"/><circle cx="294.7" cy="240.6" r="7.7"/><circle cx="295.4" cy="241.3" r="7.7"/><circle cx="296.1" cy="241.8" r="7.7"/><circle cx="296.8" cy="241.8" r="7.7"/><circle cx="297.5" cy="241.9" r="7.7"/><circle cx="298.2" cy="241.9" r="7.7"/><circle cx="299.0" cy="241.9" r="7.7"/><circle cx="299.7" cy="241.9" r="7.7"/><circle cx="300.4" cy="242.0" r="7.7"/><circle cx="301.1" cy="242.0" r="7.7"/><circle cx="303.2" cy="240.9" r="7.7"/><circle cx="303.9" cy="241.6" r="7.7"/><circle cx="304.7" cy="242.1" r="7.7"/><circle cx="305.4" cy="242.1" r="7.7"/><circle cx="306.1" cy="242.1" r="7.7"/><circle cx="306.8" cy="242.2" r="7.7"/><circle cx="307.5" cy="242.2" r="7.7"/><circle cx="308.2" cy="242.2" r="7.7"/><circle cx="308.9" cy="242.2" r="7.7"/><circle cx="309.6" cy="242.2" r="7.7"/><circle cx="311.8" cy="241.2" r="7.7"/><circle cx="312.5" cy="241.8" r="7.7"/><circle cx="313.2" cy="242.4" r="7.7"/><circle cx="313.9" cy="242.4" r="7.7"/><circle cx="314.6" cy="242.4" r="7.7"/><circle cx="315.3" cy="242.4" r="7.7"/><circle cx="316.1" cy="242.4" r="7.7"/><circle cx="316.8" cy="242.5" r="7.7"/><circle cx="317.5" cy="242.5" r="7.7"/><circle cx="318.2" cy="242.5" r="7.7"/><circle cx="320.3" cy="241.4" r="7.7"/><circle cx="321.1" cy="242.1" r="7.7"/><circle cx="321.8" cy="242.6" r="7.7"/><circle cx="322.5" cy="242.6" r="7.7"/><circle cx="323.2" cy="242.6" r="7.7"/><circle cx="323.9" cy="242.7" r="7.7"/><circle cx="324.6" cy="242.7" r="7.7"/><circle cx="325.3" cy="242.7" r="7.7"/><circle cx="326.0" cy="242.7" r="7.7"/><circle cx="326.8" cy="242.7" r="7.7"/><circle cx="328.9" cy="241.7" r="7.7"/><circle cx="329.6" cy="242.4" r="7.7"/><circle cx="330.3" cy="242.9" r="7.7"/><circle cx="331.0" cy="242.9" r="7.7"/><circle cx="331.7" cy="242.9" r="7.7"/><circle cx="332.5" cy="242.9" r="7.7"/><circle cx="333.2" cy="243.0" r="7.7"/><circle cx="333.9" cy="243.0" r="7.7"/><circle cx="334.6" cy="243.1" r="7.7"/><circle cx="335.3" cy="243.1" r="7.7"/><circle cx="337.4" cy="242.2" r="7.7"/><circle cx="338.2" cy="242.9" r="7.7"/><circle cx="338.9" cy="243.4" r="7.7"/><circle cx="339.6" cy="243.4" r="7.7"/><circle cx="340.3" cy="243.5" r="7.7"/><circle cx="341.0" cy="243.6" r="7.7"/><circle cx="341.7" cy="243.6" r="7.7"/><circle cx="342.4" cy="243.7" r="7.7"/><circle cx="343.1" cy="243.7" r="7.7"/><circle cx="343.9" cy="243.8" r="7.7"/><circle cx="346.0" cy="242.8" r="7.7"/><circle cx="346.7" cy="243.5" r="7.7"/><circle cx="347.4" cy="244.0" r="7.7"/><circle cx="348.1" cy="244.1" r="7.7"/><circle cx="348.8" cy="244.1" r="7.7"/><circle cx="349.6" cy="244.2" r="7.7"/><circle cx="350.3" cy="244.2" r="7.7"/><circle cx="351.0" cy="244.3" r="7.7"/><circle cx="351.7" cy="244.3" r="7.7"/><circle cx="352.4" cy="244.4" r="7.7"/><circle cx="354.5" cy="243.4" r="7.7"/><circle cx="355.3" cy="244.1" r="7.7"/><circle cx="356.0" cy="244.7" r="7.7"/><circle cx="356.7" cy="244.8" r="7.7"/><circle cx="357.4" cy="244.9" r="7.7"/><circle cx="358.1" cy="245.1" r="7.7"/><circle cx="358.8" cy="245.2" r="7.7"/><circle cx="359.5" cy="245.3" r="7.7"/><circle cx="360.2" cy="245.5" r="7.7"/><circle cx="361.0" cy="245.6" r="7.7"/><circle cx="363.1" cy="244.9" r="7.7"/><circle cx="363.8" cy="245.7" r="7.7"/><circle cx="364.5" cy="246.3" r="7.7"/><circle cx="365.2" cy="246.4" r="7.7"/><circle cx="365.9" cy="246.6" r="7.7"/><circle cx="366.7" cy="246.7" r="7.7"/><circle cx="367.4" cy="246.8" r="7.7"/><circle cx="368.1" cy="247.0" r="7.7"/><circle cx="368.8" cy="247.1" r="7.7"/><circle cx="369.5" cy="247.2" r="7.7"/><circle cx="371.6" cy="246.5" r="7.7"/><circle cx="372.4" cy="247.3" r="7.7"/><circle cx="373.1" cy="247.9" r="7.7"/><circle cx="373.8" cy="248.0" r="7.7"/><circle cx="374.5" cy="248.2" r="7.7"/><circle cx="375.2" cy="248.3" r="7.7"/><circle cx="375.9" cy="248.5" r="7.7"/><circle cx="376.6" cy="248.6" r="7.7"/><circle cx="377.4" cy="248.7" r="7.7"/><circle cx="378.1" cy="248.9" r="7.7"/><circle cx="380.2" cy="248.1" r="7.7"/><circle cx="380.9" cy="248.9" r="7.7"/><circle cx="381.6" cy="249.5" r="7.7"/><circle cx="382.3" cy="249.7" r="7.7"/><circle cx="383.1" cy="249.8" r="7.7"/><circle cx="383.8" cy="249.9" r="7.7"/><circle cx="384.5" cy="250.1" r="7.7"/><circle cx="385.2" cy="250.2" r="7.7"/><circle cx="385.9" cy="250.4" r="7.7"/><circle cx="386.6" cy="250.5" r="7.7"/><circle cx="388.8" cy="249.8" r="7.7"/><circle cx="389.5" cy="250.6" r="7.7"/><circle cx="390.2" cy="251.2" r="7.7"/><circle cx="390.9" cy="251.3" r="7.7"/><circle cx="391.6" cy="251.5" r="7.7"/><circle cx="392.3" cy="251.7" r="7.7"/><circle cx="393.0" cy="251.9" r="7.7"/><circle cx="393.7" cy="252.1" r="7.7"/><circle cx="394.5" cy="252.3" r="7.7"/><circle cx="395.2" cy="252.5" r="7.7"/><circle cx="397.3" cy="252.0" r="7.7"/><circle cx="398.0" cy="252.9" r="7.7"/><circle cx="398.7" cy="253.6" r="7.7"/><circle cx="399.4" cy="253.8" r="7.7"/><circle cx="400.2" cy="254.0" r="7.7"/><circle cx="400.9" cy="254.2" r="7.7"/><circle cx="401.6" cy="254.4" r="7.7"/><circle cx="402.3" cy="254.6" r="7.7"/><circle cx="403.0" cy="254.9" r="7.7"/><circle cx="403.7" cy="255.1" r="7.7"/><circle cx="405.9" cy="254.6" r="7.7"/><circle cx="406.6" cy="255.4" r="7.7"/><circle cx="407.3" cy="256.1" r="7.7"/><circle cx="408.0" cy="256.3" r="7.7"/><circle cx="408.7" cy="256.6" r="7.7"/><circle cx="409.4" cy="256.8" r="7.7"/><circle cx="410.1" cy="257.0" r="7.7"/><circle cx="410.8" cy="257.2" r="7.7"/><circle cx="411.6" cy="257.4" r="7.7"/><circle cx="412.3" cy="257.6" r="7.7"/><circle cx="414.4" cy="257.1" r="7.7"/><circle cx="415.1" cy="258.0" r="7.7"/><circle cx="415.8" cy="258.7" r="7.7"/><circle cx="416.5" cy="258.9" r="7.7"/><circle cx="417.3" cy="259.1" r="7.7"/><circle cx="418.0" cy="259.3" r="7.7"/><circle cx="418.7" cy="259.5" r="7.7"/><circle cx="419.4" cy="259.7" r="7.7"/><circle cx="420.1" cy="259.9" r="7.7"/><circle cx="420.8" cy="260.2" r="7.7"/><circle cx="423.0" cy="259.7" r="7.7"/><circle cx="423.7" cy="260.5" r="7.7"/><circle cx="424.4" cy="261.2" r="7.7"/><circle cx="425.1" cy="261.4" r="7.7"/><circle cx="425.8" cy="261.6" r="7.7"/><circle cx="426.5" cy="261.9" r="7.7"/><circle cx="427.2" cy="262.1" r="7.7"/><circle cx="428.0" cy="262.4" r="7.7"/><circle cx="428.7" cy="262.7" r="7.7"/><circle cx="429.4" cy="263.0" r="7.7"/><circle cx="431.5" cy="262.7" r="7.7"/><circle cx="432.2" cy="263.6" r="7.7"/><circle cx="432.9" cy="264.4" r="7.7"/><circle cx="433.7" cy="264.7" r="7.7"/><circle cx="434.4" cy="265.0" r="7.7"/><circle cx="435.1" cy="265.2" r="7.7"/><circle cx="435.8" cy="265.5" r="7.7"/><circle cx="436.5" cy="265.8" r="7.7"/><circle cx="437.2" cy="266.1" r="7.7"/><circle cx="437.9" cy="266.4" r="7.7"/><circle cx="440.1" cy="266.1" r="7.7"/><circle cx="440.8" cy="267.0" r="7.7"/><circle cx="441.5" cy="267.8" r="7.7"/><circle cx="442.2" cy="268.1" r="7.7"/><circle cx="442.9" cy="268.4" r="7.7"/><circle cx="443.6" cy="268.7" r="7.7"/><circle cx="444.3" cy="269.0" r="7.7"/><circle cx="445.1" cy="269.2" r="7.7"/><circle cx="445.8" cy="269.5" r="7.7"/><circle cx="446.5" cy="269.8" r="7.7"/><circle cx="448.6" cy="269.6" r="7.7"/><circle cx="449.3" cy="270.5" r="7.7"/><circle cx="450.0" cy="271.2" r="7.7"/><circle cx="450.8" cy="271.5" r="7.7"/><circle cx="451.5" cy="271.8" r="7.7"/><circle cx="452.2" cy="272.1" r="7.7"/><circle cx="452.9" cy="272.4" r="7.7"/><circle cx="453.6" cy="272.7" r="7.7"/><circle cx="454.3" cy="273.0" r="7.7"/><circle cx="455.0" cy="273.2" r="7.7"/><circle cx="457.2" cy="273.0" r="7.7"/><circle cx="457.9" cy="273.9" r="7.7"/><circle cx="458.6" cy="274.7" r="7.7"/><circle cx="459.3" cy="275.0" r="7.7"/><circle cx="460.0" cy="275.2" r="7.7"/><circle cx="460.7" cy="275.5" r="7.7"/><circle cx="461.4" cy="275.8" r="7.7"/><circle cx="462.2" cy="276.1" r="7.7"/><circle cx="462.9" cy="276.4" r="7.7"/><circle cx="463.6" cy="276.7" r="7.7"/><circle cx="465.7" cy="276.7" r="7.7"/><circle cx="466.4" cy="277.7" r="7.7"/><circle cx="467.1" cy="278.5" r="7.7"/><circle cx="467.9" cy="278.9" r="7.7"/><circle cx="468.6" cy="279.2" r="7.7"/><circle cx="469.3" cy="279.6" r="7.7"/><circle cx="470.0" cy="280.0" r="7.7"/><circle cx="470.7" cy="280.3" r="7.7"/><circle cx="471.4" cy="280.7" r="7.7"/><circle cx="472.1" cy="281.0" r="7.7"/><circle cx="474.3" cy="281.0" r="7.7"/><circle cx="475.0" cy="282.0" r="7.7"/><circle cx="475.7" cy="282.8" r="7.7"/><circle cx="476.4" cy="283.2" r="7.7"/><circle cx="477.1" cy="283.5" r="7.7"/><circle cx="477.8" cy="283.9" r="7.7"/><circle cx="478.5" cy="284.2" r="7.7"/><circle cx="479.3" cy="284.6" r="7.7"/><circle cx="480.0" cy="285.0" r="7.7"/><circle cx="480.7" cy="285.3" r="7.7"/><circle cx="482.8" cy="285.3" r="7.7"/><circle cx="483.5" cy="286.3" r="7.7"/><circle cx="484.3" cy="287.1" r="7.7"/><circle cx="485.0" cy="287.5" r="7.7"/><circle cx="485.7" cy="287.8" r="7.7"/><circle cx="486.4" cy="288.2" r="7.7"/><circle cx="487.1" cy="288.5" r="7.7"/><circle cx="487.8" cy="288.9" r="7.7"/><circle cx="488.5" cy="289.2" r="7.7"/><circle cx="489.2" cy="289.6" r="7.7"/><circle cx="491.4" cy="289.6" r="7.7"/><circle cx="492.1" cy="290.6" r="7.7"/><circle cx="492.8" cy="291.4" r="7.7"/><circle cx="493.5" cy="291.8" r="7.7"/><circle cx="494.2" cy="292.1" r="7.7"/><circle cx="494.9" cy="292.5" r="7.7"/><circle cx="495.7" cy="292.8" r="7.7"/><circle cx="496.4" cy="293.2" r="7.7"/><circle cx="497.1" cy="293.5" r="7.7"/><circle cx="497.8" cy="293.9" r="7.7"/><circle cx="499.9" cy="294.1" r="7.7"/><circle cx="500.6" cy="295.2" r="7.7"/><circle cx="501.4" cy="296.1" r="7.7"/><circle cx="502.1" cy="296.6" r="7.7"/><circle cx="502.8" cy="297.1" r="7.7"/><circle cx="503.5" cy="297.6" r="7.7"/><circle cx="504.2" cy="298.0" r="7.7"/><circle cx="504.9" cy="298.5" r="7.7"/><circle cx="505.6" cy="299.0" r="7.7"/><circle cx="506.3" cy="299.5" r="7.7"/><circle cx="508.5" cy="299.8" r="7.7"/><circle cx="509.2" cy="300.9" r="7.7"/><circle cx="509.9" cy="301.9" r="7.7"/><circle cx="510.6" cy="302.3" r="7.7"/><circle cx="511.3" cy="302.8" r="7.7"/><circle cx="512.0" cy="303.3" r="7.7"/><circle cx="512.8" cy="303.8" r="7.7"/><circle cx="513.5" cy="304.2" r="7.7"/><circle cx="514.2" cy="304.7" r="7.7"/><circle cx="514.9" cy="305.2" r="7.7"/><circle cx="517.0" cy="305.5" r="7.7"/><circle cx="517.7" cy="306.6" r="7.7"/><circle cx="518.5" cy="307.6" r="7.7"/><circle cx="519.2" cy="308.0" r="7.7"/><circle cx="519.9" cy="308.5" r="7.7"/><circle cx="520.6" cy="309.0" r="7.7"/><circle cx="521.3" cy="309.5" r="7.7"/><circle cx="522.0" cy="310.0" r="7.7"/><circle cx="522.7" cy="310.5" r="7.7"/><circle cx="523.4" cy="311.1" r="7.7"/><circle cx="525.6" cy="311.5" r="7.7"/><circle cx="526.3" cy="312.6" r="7.7"/><circle cx="527.0" cy="313.6" r="7.7"/><circle cx="527.7" cy="314.1" r="7.7"/><circle cx="528.4" cy="314.6" r="7.7"/><circle cx="529.1" cy="315.1" r="7.7"/><circle cx="529.9" cy="315.6" r="7.7"/><circle cx="530.6" cy="316.1" r="7.7"/><circle cx="531.3" cy="316.6" r="7.7"/><circle cx="532.0" cy="317.1" r="7.7"/></g><circle cx="532.8" cy="67.8" r="7.7" fill="#e67a78"/><g fill="#e67a78"><circle cx="540.4" cy="55.5" r="7.7"/><circle cx="548.4" cy="53.1" r="7.7"/><circle cx="556.4" cy="54.0" r="7.7"/><circle cx="564.4" cy="56.3" r="7.7"/><circle cx="572.4" cy="58.4" r="7.7"/><circle cx="580.4" cy="60.0" r="7.7"/><circle cx="588.4" cy="61.6" r="7.7"/><circle cx="596.4" cy="63.2" r="7.7"/><circle cx="604.4" cy="65.6" r="7.7"/><circle cx="612.4" cy="67.9" r="7.7"/><circle cx="620.4" cy="70.3" r="7.7"/><circle cx="628.4" cy="73.7" r="7.7"/><circle cx="636.4" cy="77.3" r="7.7"/><circle cx="644.4" cy="80.9" r="7.7"/><circle cx="652.4" cy="84.6" r="7.7"/><circle cx="660.4" cy="88.4" r="7.7"/><circle cx="668.4" cy="93.4" r="7.7"/><circle cx="676.4" cy="98.1" r="7.7"/><circle cx="684.4" cy="101.8" r="7.7"/><circle cx="692.4" cy="107.4" r="7.7"/><circle cx="700.4" cy="111.9" r="7.7"/></g><g fill="#e67a78"><circle cx="708.9" cy="117.5" r="7.7"/><circle cx="716.6" cy="123.8" r="7.7"/><circle cx="724.2" cy="131.5" r="7.7"/><circle cx="731.2" cy="140.8" r="7.7"/><circle cx="739.2" cy="154.8" r="7.7"/><circle cx="745.4" cy="172.7" r="7.7"/><circle cx="753.0" cy="188.0" r="7.7"/><circle cx="760.0" cy="205.9" r="7.7"/><circle cx="766.5" cy="225.3" r="7.7"/><circle cx="773.0" cy="241.0" r="7.7"/><circle cx="779.3" cy="261.2" r="7.7"/><circle cx="784.1" cy="279.9" r="7.7"/><circle cx="788.6" cy="298.6" r="7.7"/><circle cx="792.2" cy="317.3" r="7.7"/><circle cx="795.4" cy="332.2" r="7.7"/><circle cx="797.6" cy="347.5" r="7.7"/><circle cx="800.2" cy="361.4" r="7.7"/><circle cx="802.5" cy="374.0" r="7.7"/><circle cx="805.0" cy="386.0" r="7.7"/><circle cx="807.8" cy="396.0" r="7.7"/><circle cx="810.8" cy="405.5" r="7.7"/><circle cx="814.0" cy="413.5" r="7.7"/><circle cx="817.5" cy="420.0" r="7.7"/></g><g fill="#e67a78"><circle cx="536.6" cy="195.9" r="7.7"/><circle cx="537.6" cy="197.4" r="7.7"/><circle cx="538.6" cy="197.5" r="7.7"/><circle cx="539.6" cy="197.7" r="7.7"/><circle cx="540.6" cy="197.8" r="7.7"/><circle cx="541.5" cy="198.0" r="7.7"/><circle cx="542.5" cy="198.1" r="7.7"/><circle cx="543.5" cy="197.0" r="7.7"/><circle cx="544.5" cy="197.1" r="7.7"/><circle cx="545.5" cy="198.6" r="7.7"/><circle cx="546.5" cy="198.8" r="7.7"/><circle cx="547.5" cy="198.9" r="7.7"/><circle cx="548.5" cy="199.1" r="7.7"/><circle cx="549.4" cy="199.2" r="7.7"/><circle cx="550.4" cy="199.4" r="7.7"/><circle cx="551.4" cy="198.4" r="7.7"/><circle cx="552.3" cy="198.7" r="7.7"/><circle cx="553.3" cy="200.3" r="7.7"/><circle cx="554.2" cy="200.6" r="7.7"/><circle cx="555.2" cy="200.9" r="7.7"/><circle cx="556.1" cy="201.2" r="7.7"/><circle cx="557.1" cy="201.6" r="7.7"/><circle cx="558.0" cy="201.9" r="7.7"/><circle cx="559.0" cy="200.9" r="7.7"/><circle cx="559.9" cy="202.5" r="7.7"/><circle cx="560.9" cy="202.8" r="7.7"/><circle cx="561.8" cy="203.1" r="7.7"/><circle cx="562.8" cy="203.5" r="7.7"/><circle cx="563.7" cy="203.8" r="7.7"/><circle cx="564.7" cy="204.1" r="7.7"/><circle cx="565.6" cy="204.4" r="7.7"/><circle cx="566.6" cy="203.2" r="7.7"/><circle cx="567.6" cy="204.6" r="7.7"/><circle cx="568.6" cy="204.7" r="7.7"/><circle cx="569.6" cy="204.7" r="7.7"/><circle cx="570.6" cy="204.8" r="7.7"/><circle cx="571.6" cy="204.8" r="7.7"/><circle cx="572.6" cy="204.9" r="7.7"/><circle cx="573.6" cy="204.9" r="7.7"/><circle cx="574.6" cy="203.7" r="7.7"/><circle cx="575.6" cy="205.1" r="7.7"/><circle cx="576.6" cy="205.1" r="7.7"/><circle cx="577.6" cy="205.2" r="7.7"/><circle cx="578.6" cy="205.2" r="7.7"/><circle cx="579.6" cy="205.3" r="7.7"/><circle cx="580.6" cy="205.4" r="7.7"/><circle cx="581.6" cy="205.4" r="7.7"/><circle cx="582.6" cy="204.0" r="7.7"/><circle cx="583.6" cy="205.2" r="7.7"/><circle cx="584.6" cy="205.1" r="7.7"/><circle cx="585.6" cy="205.0" r="7.7"/><circle cx="586.6" cy="204.9" r="7.7"/><circle cx="587.5" cy="204.8" r="7.7"/><circle cx="588.5" cy="204.7" r="7.7"/><circle cx="589.5" cy="204.6" r="7.7"/><circle cx="590.5" cy="203.3" r="7.7"/><circle cx="591.5" cy="204.5" r="7.7"/><circle cx="592.5" cy="204.4" r="7.7"/><circle cx="593.5" cy="204.3" r="7.7"/><circle cx="594.5" cy="204.2" r="7.7"/><circle cx="595.5" cy="204.1" r="7.7"/><circle cx="596.5" cy="204.0" r="7.7"/><circle cx="597.5" cy="204.1" r="7.7"/><circle cx="598.5" cy="202.9" r="7.7"/><circle cx="599.5" cy="204.3" r="7.7"/><circle cx="600.5" cy="204.5" r="7.7"/><circle cx="601.5" cy="204.6" r="7.7"/><circle cx="602.5" cy="204.7" r="7.7"/><circle cx="603.5" cy="204.8" r="7.7"/><circle cx="604.5" cy="204.9" r="7.7"/><circle cx="605.4" cy="203.8" r="7.7"/><circle cx="606.4" cy="204.0" r="7.7"/><circle cx="607.4" cy="205.6" r="7.7"/><circle cx="608.3" cy="205.8" r="7.7"/><circle cx="609.3" cy="206.1" r="7.7"/><circle cx="610.3" cy="206.4" r="7.7"/><circle cx="611.2" cy="206.6" r="7.7"/><circle cx="612.2" cy="206.9" r="7.7"/><circle cx="613.2" cy="205.9" r="7.7"/><circle cx="614.1" cy="207.5" r="7.7"/><circle cx="615.1" cy="207.7" r="7.7"/><circle cx="616.0" cy="208.0" r="7.7"/><circle cx="617.0" cy="208.3" r="7.7"/><circle cx="618.0" cy="208.6" r="7.7"/><circle cx="618.9" cy="208.8" r="7.7"/><circle cx="619.9" cy="209.1" r="7.7"/><circle cx="620.8" cy="208.1" r="7.7"/><circle cx="621.8" cy="209.6" r="7.7"/><circle cx="622.8" cy="209.9" r="7.7"/><circle cx="623.7" cy="210.2" r="7.7"/><circle cx="624.7" cy="210.4" r="7.7"/><circle cx="625.7" cy="210.7" r="7.7"/><circle cx="626.6" cy="211.0" r="7.7"/><circle cx="627.6" cy="211.2" r="7.7"/><circle cx="628.6" cy="210.2" r="7.7"/><circle cx="629.5" cy="211.8" r="7.7"/><circle cx="630.5" cy="212.1" r="7.7"/><circle cx="631.4" cy="212.3" r="7.7"/><circle cx="632.4" cy="212.6" r="7.7"/><circle cx="633.4" cy="212.9" r="7.7"/><circle cx="634.3" cy="213.1" r="7.7"/><circle cx="635.3" cy="212.1" r="7.7"/><circle cx="636.3" cy="213.7" r="7.7"/><circle cx="637.2" cy="213.9" r="7.7"/><circle cx="638.2" cy="214.2" r="7.7"/><circle cx="639.2" cy="214.5" r="7.7"/><circle cx="640.1" cy="214.7" r="7.7"/><circle cx="641.1" cy="215.0" r="7.7"/><circle cx="642.0" cy="215.3" r="7.7"/><circle cx="643.0" cy="214.2" r="7.7"/><circle cx="644.0" cy="215.8" r="7.7"/><circle cx="644.9" cy="216.1" r="7.7"/><circle cx="645.9" cy="216.3" r="7.7"/><circle cx="646.9" cy="216.6" r="7.7"/><circle cx="647.8" cy="216.8" r="7.7"/><circle cx="648.8" cy="217.0" r="7.7"/><circle cx="649.8" cy="217.2" r="7.7"/><circle cx="650.8" cy="216.1" r="7.7"/><circle cx="651.8" cy="217.6" r="7.7"/><circle cx="652.7" cy="217.8" r="7.7"/><circle cx="653.7" cy="218.0" r="7.7"/><circle cx="654.7" cy="218.2" r="7.7"/><circle cx="655.7" cy="218.4" r="7.7"/><circle cx="656.7" cy="218.5" r="7.7"/><circle cx="657.7" cy="217.4" r="7.7"/><circle cx="658.6" cy="218.9" r="7.7"/><circle cx="659.6" cy="219.1" r="7.7"/><circle cx="660.6" cy="219.3" r="7.7"/><circle cx="661.6" cy="219.5" r="7.7"/><circle cx="662.6" cy="219.7" r="7.7"/><circle cx="663.5" cy="219.9" r="7.7"/><circle cx="664.5" cy="220.1" r="7.7"/><circle cx="665.5" cy="219.0" r="7.7"/><circle cx="666.5" cy="220.4" r="7.7"/><circle cx="667.5" cy="220.6" r="7.7"/><circle cx="668.5" cy="220.8" r="7.7"/><circle cx="669.4" cy="221.0" r="7.7"/><circle cx="670.4" cy="221.2" r="7.7"/><circle cx="671.4" cy="221.4" r="7.7"/><circle cx="672.4" cy="221.6" r="7.7"/><circle cx="673.4" cy="220.5" r="7.7"/><circle cx="674.4" cy="221.9" r="7.7"/><circle cx="675.3" cy="222.0" r="7.7"/><circle cx="676.3" cy="222.2" r="7.7"/><circle cx="677.3" cy="222.3" r="7.7"/><circle cx="678.3" cy="222.4" r="7.7"/><circle cx="679.3" cy="222.6" r="7.7"/><circle cx="680.3" cy="221.4" r="7.7"/><circle cx="681.3" cy="222.9" r="7.7"/><circle cx="682.3" cy="223.0" r="7.7"/><circle cx="683.3" cy="223.1" r="7.7"/><circle cx="684.3" cy="223.3" r="7.7"/><circle cx="685.2" cy="223.4" r="7.7"/><circle cx="686.2" cy="223.6" r="7.7"/><circle cx="687.2" cy="223.7" r="7.7"/><circle cx="688.2" cy="222.5" r="7.7"/><circle cx="689.2" cy="224.0" r="7.7"/><circle cx="690.2" cy="224.1" r="7.7"/><circle cx="691.2" cy="224.3" r="7.7"/><circle cx="692.2" cy="224.4" r="7.7"/><circle cx="693.2" cy="224.5" r="7.7"/><circle cx="694.2" cy="224.7" r="7.7"/><circle cx="695.2" cy="223.5" r="7.7"/><circle cx="696.1" cy="225.0" r="7.7"/><circle cx="697.1" cy="225.1" r="7.7"/><circle cx="698.1" cy="225.2" r="7.7"/><circle cx="699.1" cy="225.4" r="7.7"/><circle cx="700.1" cy="225.5" r="7.7"/><circle cx="701.1" cy="225.7" r="7.7"/><circle cx="702.1" cy="225.8" r="7.7"/><circle cx="703.1" cy="224.7" r="7.7"/><circle cx="704.1" cy="226.1" r="7.7"/><circle cx="705.0" cy="226.2" r="7.7"/><circle cx="706.0" cy="226.4" r="7.7"/><circle cx="707.0" cy="226.5" r="7.7"/><circle cx="708.0" cy="226.7" r="7.7"/><circle cx="709.0" cy="226.8" r="7.7"/><circle cx="710.0" cy="225.7" r="7.7"/><circle cx="711.0" cy="227.1" r="7.7"/><circle cx="712.0" cy="227.2" r="7.7"/><circle cx="713.0" cy="227.4" r="7.7"/><circle cx="714.0" cy="227.5" r="7.7"/><circle cx="714.9" cy="227.7" r="7.7"/><circle cx="715.9" cy="227.8" r="7.7"/><circle cx="716.9" cy="228.0" r="7.7"/><circle cx="717.9" cy="228.1" r="7.7"/><circle cx="718.9" cy="228.3" r="7.7"/><circle cx="719.9" cy="228.4" r="7.7"/><circle cx="720.9" cy="228.5" r="7.7"/><circle cx="721.9" cy="228.7" r="7.7"/><circle cx="722.9" cy="227.5" r="7.7"/><circle cx="723.9" cy="229.0" r="7.7"/><circle cx="724.8" cy="229.4" r="7.7"/><circle cx="725.7" cy="229.8" r="7.7"/><circle cx="726.6" cy="230.2" r="7.7"/><circle cx="727.5" cy="230.6" r="7.7"/><circle cx="728.4" cy="229.7" r="7.7"/><circle cx="729.3" cy="231.5" r="7.7"/><circle cx="730.2" cy="231.9" r="7.7"/><circle cx="731.1" cy="232.3" r="7.7"/><circle cx="732.0" cy="232.8" r="7.7"/><circle cx="732.9" cy="233.2" r="7.7"/><circle cx="733.8" cy="233.6" r="7.7"/><circle cx="734.7" cy="234.1" r="7.7"/><circle cx="735.6" cy="234.5" r="7.7"/><circle cx="736.4" cy="235.1" r="7.7"/><circle cx="737.3" cy="235.6" r="7.7"/><circle cx="738.1" cy="234.9" r="7.7"/><circle cx="738.9" cy="236.7" r="7.7"/><circle cx="739.8" cy="237.3" r="7.7"/><circle cx="740.6" cy="237.9" r="7.7"/><circle cx="741.4" cy="238.4" r="7.7"/><circle cx="742.2" cy="237.7" r="7.7"/><circle cx="743.0" cy="239.6" r="7.7"/><circle cx="743.9" cy="240.2" r="7.7"/><circle cx="744.7" cy="240.8" r="7.7"/><circle cx="745.5" cy="241.3" r="7.7"/><circle cx="746.3" cy="240.6" r="7.7"/><circle cx="747.1" cy="242.5" r="7.7"/><circle cx="747.9" cy="243.1" r="7.7"/><circle cx="748.7" cy="243.7" r="7.7"/><circle cx="749.5" cy="244.3" r="7.7"/><circle cx="750.3" cy="244.9" r="7.7"/><circle cx="751.1" cy="245.5" r="7.7"/><circle cx="751.8" cy="246.2" r="7.7"/><circle cx="752.6" cy="246.8" r="7.7"/><circle cx="753.4" cy="246.2" r="7.7"/><circle cx="754.1" cy="248.1" r="7.7"/><circle cx="754.9" cy="248.8" r="7.7"/><circle cx="755.6" cy="249.4" r="7.7"/><circle cx="756.4" cy="250.1" r="7.7"/><circle cx="757.2" cy="250.7" r="7.7"/><circle cx="757.8" cy="251.5" r="7.7"/><circle cx="758.4" cy="252.3" r="7.7"/><circle cx="758.9" cy="253.1" r="7.7"/><circle cx="759.5" cy="254.0" r="7.7"/><circle cx="760.0" cy="254.8" r="7.7"/><circle cx="760.6" cy="255.6" r="7.7"/><circle cx="761.1" cy="256.5" r="7.7"/><circle cx="761.7" cy="257.3" r="7.7"/><circle cx="762.2" cy="258.1" r="7.7"/><circle cx="762.8" cy="259.0" r="7.7"/><circle cx="763.4" cy="259.8" r="7.7"/><circle cx="763.9" cy="260.6" r="7.7"/><circle cx="764.5" cy="261.5" r="7.7"/><circle cx="765.0" cy="262.3" r="7.7"/><circle cx="765.6" cy="263.1" r="7.7"/><circle cx="766.1" cy="264.0" r="7.7"/><circle cx="766.6" cy="264.9" r="7.7"/><circle cx="767.0" cy="265.7" r="7.7"/><circle cx="767.5" cy="266.6" r="7.7"/><circle cx="768.0" cy="267.5" r="7.7"/><circle cx="768.5" cy="268.3" r="7.7"/><circle cx="769.0" cy="269.2" r="7.7"/><circle cx="769.5" cy="270.1" r="7.7"/><circle cx="770.0" cy="271.0" r="7.7"/><circle cx="770.5" cy="271.8" r="7.7"/><circle cx="771.0" cy="272.7" r="7.7"/><circle cx="771.5" cy="273.6" r="7.7"/><circle cx="772.0" cy="274.4" r="7.7"/><circle cx="772.4" cy="275.3" r="7.7"/><circle cx="772.8" cy="276.3" r="7.7"/><circle cx="773.2" cy="277.2" r="7.7"/><circle cx="773.6" cy="278.1" r="7.7"/><circle cx="774.1" cy="279.0" r="7.7"/><circle cx="774.5" cy="279.9" r="7.7"/><circle cx="774.9" cy="280.8" r="7.7"/><circle cx="775.3" cy="281.7" r="7.7"/><circle cx="775.7" cy="282.6" r="7.7"/><circle cx="776.1" cy="283.5" r="7.7"/><circle cx="776.6" cy="284.4" r="7.7"/><circle cx="777.0" cy="285.3" r="7.7"/><circle cx="777.4" cy="286.3" r="7.7"/><circle cx="777.7" cy="287.2" r="7.7"/><circle cx="778.1" cy="288.1" r="7.7"/><circle cx="778.4" cy="289.1" r="7.7"/><circle cx="778.7" cy="290.0" r="7.7"/><circle cx="779.1" cy="291.0" r="7.7"/><circle cx="779.4" cy="291.9" r="7.7"/><circle cx="779.7" cy="292.9" r="7.7"/><circle cx="780.0" cy="293.8" r="7.7"/><circle cx="780.4" cy="294.7" r="7.7"/><circle cx="780.7" cy="295.7" r="7.7"/><circle cx="781.0" cy="296.6" r="7.7"/><circle cx="781.4" cy="297.6" r="7.7"/><circle cx="781.7" cy="298.5" r="7.7"/><circle cx="782.0" cy="299.5" r="7.7"/><circle cx="782.3" cy="300.4" r="7.7"/><circle cx="782.7" cy="301.4" r="7.7"/><circle cx="783.0" cy="302.3" r="7.7"/><circle cx="783.3" cy="303.2" r="7.7"/><circle cx="783.7" cy="304.2" r="7.7"/><circle cx="784.0" cy="305.1" r="7.7"/><circle cx="784.3" cy="306.1" r="7.7"/><circle cx="784.6" cy="307.0" r="7.7"/><circle cx="785.0" cy="308.0" r="7.7"/><circle cx="785.3" cy="308.9" r="7.7"/><circle cx="785.6" cy="309.9" r="7.7"/><circle cx="785.9" cy="310.8" r="7.7"/><circle cx="786.1" cy="311.8" r="7.7"/><circle cx="786.4" cy="312.8" r="7.7"/><circle cx="786.6" cy="313.7" r="7.7"/><circle cx="786.9" cy="314.7" r="7.7"/><circle cx="787.1" cy="315.7" r="7.7"/><circle cx="787.4" cy="316.6" r="7.7"/><circle cx="787.6" cy="317.6" r="7.7"/><circle cx="787.9" cy="318.6" r="7.7"/><circle cx="788.1" cy="319.5" r="7.7"/><circle cx="788.4" cy="320.5" r="7.7"/><circle cx="788.6" cy="321.5" r="7.7"/><circle cx="788.9" cy="322.4" r="7.7"/><circle cx="789.1" cy="323.4" r="7.7"/><circle cx="789.4" cy="324.4" r="7.7"/><circle cx="789.6" cy="325.4" r="7.7"/><circle cx="789.9" cy="326.3" r="7.7"/><circle cx="790.1" cy="327.3" r="7.7"/><circle cx="790.4" cy="328.3" r="7.7"/><circle cx="790.6" cy="329.2" r="7.7"/><circle cx="790.9" cy="330.2" r="7.7"/><circle cx="791.1" cy="331.2" r="7.7"/><circle cx="791.4" cy="332.1" r="7.7"/><circle cx="791.7" cy="333.1" r="7.7"/><circle cx="791.9" cy="334.0" r="7.7"/><circle cx="792.2" cy="335.0" r="7.7"/><circle cx="792.5" cy="336.0" r="7.7"/><circle cx="792.7" cy="336.9" r="7.7"/><circle cx="793.0" cy="337.9" r="7.7"/><circle cx="793.3" cy="338.9" r="7.7"/><circle cx="793.5" cy="339.8" r="7.7"/><circle cx="793.8" cy="340.8" r="7.7"/><circle cx="794.0" cy="341.8" r="7.7"/><circle cx="794.2" cy="342.7" r="7.7"/><circle cx="794.4" cy="343.7" r="7.7"/><circle cx="794.6" cy="344.7" r="7.7"/><circle cx="794.7" cy="345.7" r="7.7"/><circle cx="794.9" cy="346.7" r="7.7"/><circle cx="795.1" cy="347.7" r="7.7"/><circle cx="795.2" cy="348.7" r="7.7"/><circle cx="795.4" cy="349.6" r="7.7"/><circle cx="795.6" cy="350.6" r="7.7"/><circle cx="795.7" cy="351.6" r="7.7"/><circle cx="795.9" cy="352.6" r="7.7"/><circle cx="796.1" cy="353.6" r="7.7"/><circle cx="796.2" cy="354.6" r="7.7"/><circle cx="796.4" cy="355.6" r="7.7"/><circle cx="796.6" cy="356.5" r="7.7"/><circle cx="796.7" cy="357.5" r="7.7"/><circle cx="796.9" cy="358.5" r="7.7"/><circle cx="797.1" cy="359.5" r="7.7"/><circle cx="797.2" cy="360.5" r="7.7"/><circle cx="797.4" cy="361.5" r="7.7"/><circle cx="797.6" cy="362.5" r="7.7"/><circle cx="797.7" cy="363.4" r="7.7"/><circle cx="797.9" cy="364.4" r="7.7"/><circle cx="798.1" cy="365.4" r="7.7"/><circle cx="798.3" cy="366.4" r="7.7"/><circle cx="798.4" cy="367.4" r="7.7"/><circle cx="798.6" cy="368.4" r="7.7"/><circle cx="798.8" cy="369.4" r="7.7"/><circle cx="798.9" cy="370.3" r="7.7"/><circle cx="799.1" cy="371.3" r="7.7"/><circle cx="799.3" cy="372.3" r="7.7"/><circle cx="799.4" cy="373.3" r="7.7"/><circle cx="799.7" cy="374.3" r="7.7"/><circle cx="799.9" cy="375.2" r="7.7"/><circle cx="800.2" cy="376.2" r="7.7"/><circle cx="800.4" cy="377.2" r="7.7"/><circle cx="800.7" cy="378.1" r="7.7"/><circle cx="801.0" cy="379.1" r="7.7"/><circle cx="801.2" cy="380.1" r="7.7"/><circle cx="801.5" cy="381.0" r="7.7"/><circle cx="801.7" cy="382.0" r="7.7"/><circle cx="802.0" cy="383.0" r="7.7"/><circle cx="802.3" cy="383.9" r="7.7"/><circle cx="802.5" cy="384.9" r="7.7"/><circle cx="802.8" cy="385.9" r="7.7"/><circle cx="803.0" cy="386.8" r="7.7"/><circle cx="803.3" cy="387.8" r="7.7"/><circle cx="803.6" cy="388.8" r="7.7"/><circle cx="803.8" cy="389.7" r="7.7"/><circle cx="804.1" cy="390.7" r="7.7"/><circle cx="804.3" cy="391.7" r="7.7"/><circle cx="804.6" cy="392.6" r="7.7"/><circle cx="804.9" cy="393.6" r="7.7"/><circle cx="805.1" cy="394.6" r="7.7"/><circle cx="805.4" cy="395.5" r="7.7"/><circle cx="805.6" cy="396.5" r="7.7"/><circle cx="805.9" cy="397.5" r="7.7"/><circle cx="806.2" cy="398.4" r="7.7"/><circle cx="806.4" cy="399.4" r="7.7"/><circle cx="806.7" cy="400.3" r="7.7"/><circle cx="807.1" cy="401.3" r="7.7"/><circle cx="807.5" cy="402.2" r="7.7"/><circle cx="807.8" cy="403.1" r="7.7"/><circle cx="808.2" cy="404.1" r="7.7"/><circle cx="808.5" cy="405.0" r="7.7"/><circle cx="808.9" cy="405.9" r="7.7"/><circle cx="809.3" cy="406.9" r="7.7"/><circle cx="809.6" cy="407.8" r="7.7"/><circle cx="810.0" cy="408.7" r="7.7"/><circle cx="810.3" cy="409.7" r="7.7"/><circle cx="810.7" cy="410.6" r="7.7"/><circle cx="811.0" cy="411.5" r="7.7"/><circle cx="811.4" cy="412.5" r="7.7"/><circle cx="811.8" cy="413.4" r="7.7"/><circle cx="812.1" cy="414.3" r="7.7"/><circle cx="812.5" cy="415.3" r="7.7"/><circle cx="812.8" cy="416.2" r="7.7"/><circle cx="813.2" cy="417.1" r="7.7"/><circle cx="813.6" cy="418.1" r="7.7"/><circle cx="813.9" cy="419.0" r="7.7"/><circle cx="814.3" cy="419.9" r="7.7"/><circle cx="814.7" cy="420.8" r="7.7"/><circle cx="815.3" cy="421.6" r="7.7"/><circle cx="815.9" cy="422.5" r="7.7"/><circle cx="816.4" cy="423.3" r="7.7"/><circle cx="817.0" cy="424.1" r="7.7"/><circle cx="817.6" cy="424.9" r="7.7"/><circle cx="818.1" cy="425.8" r="7.7"/><circle cx="818.7" cy="426.6" r="7.7"/><circle cx="819.3" cy="427.4" r="7.7"/><circle cx="819.8" cy="428.2" r="7.7"/><circle cx="820.6" cy="428.8" r="7.7"/><circle cx="821.5" cy="429.3" r="7.7"/><circle cx="822.3" cy="429.8" r="7.7"/><circle cx="823.2" cy="430.3" r="7.7"/><circle cx="824.1" cy="430.8" r="7.7"/><circle cx="824.9" cy="431.3" r="7.7"/><circle cx="825.8" cy="431.8" r="7.7"/><circle cx="826.7" cy="432.3" r="7.7"/></g><circle cx="532.8" cy="128.2" r="7.7" fill="#b39ddb"/><g fill="#b39ddb"><circle cx="540.4" cy="109.1" r="7.7"/><circle cx="548.4" cy="105.0" r="7.7"/><circle cx="556.4" cy="105.0" r="7.7"/><circle cx="564.4" cy="105.5" r="7.7"/><circle cx="572.4" cy="106.3" r="7.7"/><circle cx="580.4" cy="108.1" r="7.7"/><circle cx="588.4" cy="109.8" r="7.7"/><circle cx="596.4" cy="111.6" r="7.7"/><circle cx="604.4" cy="113.6" r="7.7"/><circle cx="612.4" cy="123.3" r="7.7"/><circle cx="620.4" cy="125.3" r="7.7"/><circle cx="628.4" cy="128.8" r="7.7"/><circle cx="636.4" cy="131.7" r="7.7"/><circle cx="644.4" cy="130.4" r="7.7"/><circle cx="652.4" cy="130.3" r="7.7"/><circle cx="660.4" cy="132.8" r="7.7"/><circle cx="668.4" cy="135.3" r="7.7"/><circle cx="676.4" cy="137.9" r="7.7"/><circle cx="684.4" cy="140.6" r="7.7"/><circle cx="692.4" cy="143.3" r="7.7"/><circle cx="700.4" cy="146.0" r="7.7"/><circle cx="708.4" cy="148.8" r="7.7"/><circle cx="716.2" cy="151.5" r="7.7"/><circle cx="723.7" cy="154.2" r="7.7"/><circle cx="731.1" cy="157.3" r="7.7"/><circle cx="738.3" cy="160.6" r="7.7"/><circle cx="745.2" cy="163.7" r="7.7"/><circle cx="752.0" cy="167.0" r="7.7"/><circle cx="758.6" cy="171.6" r="7.7"/><circle cx="765.0" cy="176.2" r="7.7"/><circle cx="771.3" cy="180.5" r="7.7"/><circle cx="777.4" cy="185.0" r="7.7"/><circle cx="783.3" cy="190.3" r="7.7"/><circle cx="789.1" cy="195.5" r="7.7"/><circle cx="794.7" cy="200.5" r="7.7"/><circle cx="800.1" cy="205.4" r="7.7"/><circle cx="805.4" cy="210.5" r="7.7"/><circle cx="810.6" cy="215.7" r="7.7"/><circle cx="815.6" cy="220.7" r="7.7"/><circle cx="820.5" cy="225.6" r="7.7"/><circle cx="825.3" cy="230.4" r="7.7"/><circle cx="829.9" cy="235.4" r="7.7"/><circle cx="834.4" cy="240.8" r="7.7"/><circle cx="838.8" cy="246.0" r="7.7"/><circle cx="843.1" cy="251.6" r="7.7"/><circle cx="847.2" cy="258.0" r="7.7"/><circle cx="851.3" cy="264.2" r="7.7"/><circle cx="855.2" cy="269.8" r="7.7"/><circle cx="859.0" cy="275.1" r="7.7"/><circle cx="862.8" cy="280.1" r="7.7"/><circle cx="866.3" cy="285.0" r="7.7"/><circle cx="869.7" cy="290.1" r="7.7"/><circle cx="873.0" cy="295.4" r="7.7"/><circle cx="876.1" cy="300.4" r="7.7"/><circle cx="879.0" cy="306.1" r="7.7"/><circle cx="881.8" cy="314.3" r="7.7"/><circle cx="884.5" cy="322.1" r="7.7"/><circle cx="887.1" cy="337.6" r="7.7"/><circle cx="889.5" cy="350.5" r="7.7"/><circle cx="891.8" cy="361.2" r="7.7"/><circle cx="894.1" cy="373.8" r="7.7"/><circle cx="896.3" cy="386.1" r="7.7"/><circle cx="898.5" cy="398.3" r="7.7"/><circle cx="900.6" cy="409.2" r="7.7"/><circle cx="902.7" cy="419.4" r="7.7"/><circle cx="904.8" cy="425.1" r="7.7"/></g><g fill="#b39ddb"><circle cx="536.6" cy="232.2" r="7.7"/><circle cx="537.6" cy="233.3" r="7.7"/><circle cx="538.6" cy="233.2" r="7.7"/><circle cx="539.6" cy="233.2" r="7.7"/><circle cx="540.6" cy="233.1" r="7.7"/><circle cx="541.6" cy="233.1" r="7.7"/><circle cx="542.6" cy="233.1" r="7.7"/><circle cx="543.6" cy="231.9" r="7.7"/><circle cx="544.6" cy="231.9" r="7.7"/><circle cx="545.6" cy="233.0" r="7.7"/><circle cx="546.6" cy="232.9" r="7.7"/><circle cx="547.6" cy="232.9" r="7.7"/><circle cx="548.6" cy="232.8" r="7.7"/><circle cx="549.6" cy="232.8" r="7.7"/><circle cx="550.6" cy="232.8" r="7.7"/><circle cx="551.6" cy="231.6" r="7.7"/><circle cx="552.6" cy="231.6" r="7.7"/><circle cx="553.6" cy="232.7" r="7.7"/><circle cx="554.6" cy="232.6" r="7.7"/><circle cx="555.6" cy="232.6" r="7.7"/><circle cx="556.6" cy="232.5" r="7.7"/><circle cx="557.6" cy="232.5" r="7.7"/><circle cx="558.6" cy="232.5" r="7.7"/><circle cx="559.6" cy="231.3" r="7.7"/><circle cx="560.6" cy="232.4" r="7.7"/><circle cx="561.6" cy="232.4" r="7.7"/><circle cx="562.6" cy="232.3" r="7.7"/><circle cx="563.6" cy="232.3" r="7.7"/><circle cx="564.6" cy="232.2" r="7.7"/><circle cx="565.6" cy="232.2" r="7.7"/><circle cx="566.6" cy="232.2" r="7.7"/><circle cx="567.6" cy="231.0" r="7.7"/><circle cx="568.6" cy="232.1" r="7.7"/><circle cx="569.6" cy="232.1" r="7.7"/><circle cx="570.6" cy="232.0" r="7.7"/><circle cx="571.6" cy="232.0" r="7.7"/><circle cx="572.6" cy="232.0" r="7.7"/><circle cx="573.6" cy="232.1" r="7.7"/><circle cx="574.6" cy="232.1" r="7.7"/><circle cx="575.6" cy="231.0" r="7.7"/><circle cx="576.6" cy="232.1" r="7.7"/><circle cx="577.6" cy="232.1" r="7.7"/><circle cx="578.6" cy="232.2" r="7.7"/><circle cx="579.6" cy="232.2" r="7.7"/><circle cx="580.6" cy="232.2" r="7.7"/><circle cx="581.6" cy="232.2" r="7.7"/><circle cx="582.6" cy="232.3" r="7.7"/><circle cx="583.6" cy="231.2" r="7.7"/><circle cx="584.6" cy="232.3" r="7.7"/><circle cx="585.6" cy="232.3" r="7.7"/><circle cx="586.6" cy="232.3" r="7.7"/><circle cx="587.6" cy="232.4" r="7.7"/><circle cx="588.6" cy="232.4" r="7.7"/><circle cx="589.6" cy="232.4" r="7.7"/><circle cx="590.6" cy="232.4" r="7.7"/><circle cx="591.6" cy="231.4" r="7.7"/><circle cx="592.6" cy="232.5" r="7.7"/><circle cx="593.6" cy="232.5" r="7.7"/><circle cx="594.6" cy="232.5" r="7.7"/><circle cx="595.6" cy="232.6" r="7.7"/><circle cx="596.6" cy="232.6" r="7.7"/><circle cx="597.6" cy="232.6" r="7.7"/><circle cx="598.6" cy="232.6" r="7.7"/><circle cx="599.6" cy="231.5" r="7.7"/><circle cx="600.6" cy="232.7" r="7.7"/><circle cx="601.6" cy="232.7" r="7.7"/><circle cx="602.6" cy="232.7" r="7.7"/><circle cx="603.6" cy="232.7" r="7.7"/><circle cx="604.6" cy="232.8" r="7.7"/><circle cx="605.6" cy="232.8" r="7.7"/><circle cx="606.6" cy="231.7" r="7.7"/><circle cx="607.4" cy="232.2" r="7.7"/><circle cx="608.3" cy="233.8" r="7.7"/><circle cx="609.1" cy="234.4" r="7.7"/><circle cx="609.9" cy="234.9" r="7.7"/><circle cx="610.7" cy="235.6" r="7.7"/><circle cx="611.5" cy="236.2" r="7.7"/><circle cx="612.2" cy="236.8" r="7.7"/><circle cx="613.0" cy="236.4" r="7.7"/><circle cx="613.8" cy="238.1" r="7.7"/><circle cx="614.6" cy="238.6" r="7.7"/><circle cx="615.6" cy="238.8" r="7.7"/><circle cx="616.6" cy="238.9" r="7.7"/><circle cx="617.6" cy="239.0" r="7.7"/><circle cx="618.6" cy="239.2" r="7.7"/><circle cx="619.6" cy="239.3" r="7.7"/><circle cx="620.6" cy="238.3" r="7.7"/><circle cx="621.5" cy="239.6" r="7.7"/><circle cx="622.5" cy="239.7" r="7.7"/><circle cx="623.5" cy="239.9" r="7.7"/><circle cx="624.5" cy="240.0" r="7.7"/><circle cx="625.5" cy="240.1" r="7.7"/><circle cx="626.5" cy="240.3" r="7.7"/><circle cx="627.5" cy="240.4" r="7.7"/><circle cx="628.5" cy="239.4" r="7.7"/><circle cx="629.5" cy="240.7" r="7.7"/><circle cx="630.5" cy="240.8" r="7.7"/><circle cx="631.5" cy="240.9" r="7.7"/><circle cx="632.4" cy="241.1" r="7.7"/><circle cx="633.4" cy="241.2" r="7.7"/><circle cx="634.4" cy="241.3" r="7.7"/><circle cx="635.4" cy="240.2" r="7.7"/><circle cx="636.4" cy="241.2" r="7.7"/><circle cx="637.4" cy="241.0" r="7.7"/><circle cx="638.4" cy="240.9" r="7.7"/><circle cx="639.4" cy="240.7" r="7.7"/><circle cx="640.4" cy="240.6" r="7.7"/><circle cx="641.4" cy="240.4" r="7.7"/><circle cx="642.3" cy="240.3" r="7.7"/><circle cx="643.3" cy="239.1" r="7.7"/><circle cx="644.3" cy="240.0" r="7.7"/><circle cx="645.3" cy="239.9" r="7.7"/><circle cx="646.3" cy="239.7" r="7.7"/><circle cx="647.3" cy="239.6" r="7.7"/><circle cx="648.3" cy="239.4" r="7.7"/><circle cx="649.3" cy="239.3" r="7.7"/><circle cx="650.3" cy="239.2" r="7.7"/><circle cx="651.3" cy="237.9" r="7.7"/><circle cx="652.2" cy="238.9" r="7.7"/><circle cx="653.2" cy="238.8" r="7.7"/><circle cx="654.2" cy="238.9" r="7.7"/><circle cx="655.2" cy="239.0" r="7.7"/><circle cx="656.2" cy="239.1" r="7.7"/><circle cx="657.2" cy="239.1" r="7.7"/><circle cx="658.2" cy="238.1" r="7.7"/><circle cx="659.2" cy="239.3" r="7.7"/><circle cx="660.2" cy="239.4" r="7.7"/><circle cx="661.2" cy="239.5" r="7.7"/><circle cx="662.2" cy="239.5" r="7.7"/><circle cx="663.2" cy="239.6" r="7.7"/><circle cx="664.2" cy="239.7" r="7.7"/><circle cx="665.2" cy="239.8" r="7.7"/><circle cx="666.2" cy="238.7" r="7.7"/><circle cx="667.2" cy="239.9" r="7.7"/><circle cx="668.2" cy="240.0" r="7.7"/><circle cx="669.2" cy="240.1" r="7.7"/><circle cx="670.2" cy="240.1" r="7.7"/><circle cx="671.2" cy="240.2" r="7.7"/><circle cx="672.2" cy="240.3" r="7.7"/><circle cx="673.2" cy="240.4" r="7.7"/><circle cx="674.2" cy="239.4" r="7.7"/><circle cx="675.2" cy="240.5" r="7.7"/><circle cx="676.2" cy="240.6" r="7.7"/><circle cx="677.2" cy="240.7" r="7.7"/><circle cx="678.2" cy="240.8" r="7.7"/><circle cx="679.2" cy="240.8" r="7.7"/><circle cx="680.2" cy="240.9" r="7.7"/><circle cx="681.2" cy="239.8" r="7.7"/><circle cx="682.2" cy="241.0" r="7.7"/><circle cx="683.2" cy="241.0" r="7.7"/><circle cx="684.2" cy="241.1" r="7.7"/><circle cx="685.2" cy="241.1" r="7.7"/><circle cx="686.2" cy="241.1" r="7.7"/><circle cx="687.2" cy="241.2" r="7.7"/><circle cx="688.1" cy="241.2" r="7.7"/><circle cx="689.1" cy="240.2" r="7.7"/><circle cx="690.1" cy="241.3" r="7.7"/><circle cx="691.1" cy="241.3" r="7.7"/><circle cx="692.1" cy="241.4" r="7.7"/><circle cx="693.1" cy="241.4" r="7.7"/><circle cx="694.1" cy="241.5" r="7.7"/><circle cx="695.1" cy="241.5" r="7.7"/><circle cx="696.1" cy="240.4" r="7.7"/><circle cx="697.1" cy="241.6" r="7.7"/><circle cx="698.1" cy="241.6" r="7.7"/><circle cx="699.1" cy="241.7" r="7.7"/><circle cx="700.1" cy="241.7" r="7.7"/><circle cx="701.1" cy="241.7" r="7.7"/><circle cx="702.1" cy="241.8" r="7.7"/><circle cx="703.1" cy="241.8" r="7.7"/><circle cx="704.1" cy="240.7" r="7.7"/><circle cx="705.1" cy="241.9" r="7.7"/><circle cx="706.1" cy="241.9" r="7.7"/><circle cx="707.1" cy="242.0" r="7.7"/><circle cx="708.1" cy="242.0" r="7.7"/><circle cx="709.1" cy="242.0" r="7.7"/><circle cx="710.1" cy="242.1" r="7.7"/><circle cx="711.1" cy="241.0" r="7.7"/><circle cx="712.1" cy="242.2" r="7.7"/><circle cx="713.1" cy="242.2" r="7.7"/><circle cx="714.1" cy="242.2" r="7.7"/><circle cx="715.1" cy="242.3" r="7.7"/><circle cx="716.1" cy="242.3" r="7.7"/><circle cx="717.1" cy="242.4" r="7.7"/><circle cx="718.1" cy="241.3" r="7.7"/><circle cx="719.1" cy="242.4" r="7.7"/><circle cx="720.1" cy="242.5" r="7.7"/><circle cx="721.1" cy="242.5" r="7.7"/><circle cx="722.1" cy="242.6" r="7.7"/><circle cx="723.1" cy="242.6" r="7.7"/><circle cx="724.1" cy="242.6" r="7.7"/><circle cx="725.1" cy="241.6" r="7.7"/><circle cx="726.1" cy="242.7" r="7.7"/><circle cx="727.1" cy="242.7" r="7.7"/><circle cx="728.1" cy="242.8" r="7.7"/><circle cx="729.1" cy="242.8" r="7.7"/><circle cx="730.1" cy="242.9" r="7.7"/><circle cx="731.1" cy="242.9" r="7.7"/><circle cx="732.1" cy="241.8" r="7.7"/><circle cx="733.1" cy="243.0" r="7.7"/><circle cx="734.1" cy="243.0" r="7.7"/><circle cx="735.1" cy="243.1" r="7.7"/><circle cx="736.1" cy="243.1" r="7.7"/><circle cx="737.1" cy="243.1" r="7.7"/><circle cx="738.1" cy="243.2" r="7.7"/><circle cx="739.1" cy="242.1" r="7.7"/><circle cx="740.1" cy="243.3" r="7.7"/><circle cx="741.1" cy="243.3" r="7.7"/><circle cx="742.1" cy="243.4" r="7.7"/><circle cx="743.1" cy="243.5" r="7.7"/><circle cx="744.1" cy="243.7" r="7.7"/><circle cx="745.1" cy="242.7" r="7.7"/><circle cx="746.1" cy="243.9" r="7.7"/><circle cx="747.1" cy="244.1" r="7.7"/><circle cx="748.1" cy="244.2" r="7.7"/><circle cx="749.0" cy="244.3" r="7.7"/><circle cx="750.0" cy="244.4" r="7.7"/><circle cx="751.0" cy="244.6" r="7.7"/><circle cx="752.0" cy="243.6" r="7.7"/><circle cx="753.0" cy="244.8" r="7.7"/><circle cx="754.0" cy="245.0" r="7.7"/><circle cx="755.0" cy="245.1" r="7.7"/><circle cx="756.0" cy="245.2" r="7.7"/><circle cx="757.0" cy="245.4" r="7.7"/><circle cx="757.9" cy="244.5" r="7.7"/><circle cx="758.9" cy="245.8" r="7.7"/><circle cx="759.9" cy="246.0" r="7.7"/><circle cx="760.9" cy="246.2" r="7.7"/><circle cx="761.9" cy="246.4" r="7.7"/><circle cx="762.8" cy="246.6" r="7.7"/><circle cx="763.8" cy="245.8" r="7.7"/><circle cx="764.8" cy="247.1" r="7.7"/><circle cx="765.8" cy="247.3" r="7.7"/><circle cx="766.7" cy="247.5" r="7.7"/><circle cx="767.7" cy="247.7" r="7.7"/><circle cx="768.7" cy="247.9" r="7.7"/><circle cx="769.7" cy="247.0" r="7.7"/><circle cx="770.7" cy="248.3" r="7.7"/><circle cx="771.6" cy="248.5" r="7.7"/><circle cx="772.6" cy="248.8" r="7.7"/><circle cx="773.6" cy="249.0" r="7.7"/><circle cx="774.5" cy="249.3" r="7.7"/><circle cx="775.5" cy="248.4" r="7.7"/><circle cx="776.5" cy="249.8" r="7.7"/><circle cx="777.4" cy="250.0" r="7.7"/><circle cx="778.4" cy="250.3" r="7.7"/><circle cx="779.4" cy="250.5" r="7.7"/><circle cx="780.4" cy="250.8" r="7.7"/><circle cx="781.3" cy="249.9" r="7.7"/><circle cx="782.3" cy="251.2" r="7.7"/><circle cx="783.3" cy="251.5" r="7.7"/><circle cx="784.2" cy="251.7" r="7.7"/><circle cx="785.2" cy="252.0" r="7.7"/><circle cx="786.2" cy="252.2" r="7.7"/><circle cx="787.1" cy="252.5" r="7.7"/><circle cx="788.1" cy="252.7" r="7.7"/><circle cx="789.1" cy="253.0" r="7.7"/><circle cx="790.0" cy="253.3" r="7.7"/><circle cx="791.0" cy="253.5" r="7.7"/><circle cx="792.0" cy="252.7" r="7.7"/><circle cx="792.9" cy="254.1" r="7.7"/><circle cx="793.9" cy="254.3" r="7.7"/><circle cx="794.9" cy="254.6" r="7.7"/><circle cx="795.8" cy="254.9" r="7.7"/><circle cx="796.8" cy="255.1" r="7.7"/><circle cx="797.8" cy="255.4" r="7.7"/><circle cx="798.7" cy="255.6" r="7.7"/><circle cx="799.7" cy="255.9" r="7.7"/><circle cx="800.6" cy="256.2" r="7.7"/><circle cx="801.6" cy="256.6" r="7.7"/><circle cx="802.5" cy="255.8" r="7.7"/><circle cx="803.4" cy="257.3" r="7.7"/><circle cx="804.4" cy="257.6" r="7.7"/><circle cx="805.3" cy="258.0" r="7.7"/><circle cx="806.2" cy="258.3" r="7.7"/><circle cx="807.2" cy="257.6" r="7.7"/><circle cx="808.1" cy="259.0" r="7.7"/><circle cx="809.1" cy="259.4" r="7.7"/><circle cx="810.0" cy="259.7" r="7.7"/><circle cx="810.9" cy="260.1" r="7.7"/><circle cx="811.9" cy="259.3" r="7.7"/><circle cx="812.8" cy="260.8" r="7.7"/><circle cx="813.7" cy="261.1" r="7.7"/><circle cx="814.7" cy="261.5" r="7.7"/><circle cx="815.6" cy="261.9" r="7.7"/><circle cx="816.5" cy="261.2" r="7.7"/><circle cx="817.4" cy="262.7" r="7.7"/><circle cx="818.3" cy="263.1" r="7.7"/><circle cx="819.2" cy="263.5" r="7.7"/><circle cx="820.2" cy="263.9" r="7.7"/><circle cx="821.1" cy="263.2" r="7.7"/><circle cx="822.0" cy="264.8" r="7.7"/><circle cx="822.9" cy="265.2" r="7.7"/><circle cx="823.8" cy="265.6" r="7.7"/><circle cx="824.7" cy="266.0" r="7.7"/><circle cx="825.6" cy="265.3" r="7.7"/><circle cx="826.5" cy="266.8" r="7.7"/><circle cx="827.4" cy="267.2" r="7.7"/><circle cx="828.3" cy="267.7" r="7.7"/><circle cx="829.3" cy="268.1" r="7.7"/><circle cx="830.2" cy="268.5" r="7.7"/><circle cx="831.0" cy="269.0" r="7.7"/><circle cx="831.8" cy="269.6" r="7.7"/><circle cx="832.7" cy="270.1" r="7.7"/><circle cx="833.5" cy="269.6" r="7.7"/><circle cx="834.3" cy="271.3" r="7.7"/><circle cx="835.2" cy="271.8" r="7.7"/><circle cx="836.0" cy="272.4" r="7.7"/><circle cx="836.8" cy="272.9" r="7.7"/><circle cx="837.7" cy="273.5" r="7.7"/><circle cx="838.5" cy="274.0" r="7.7"/><circle cx="839.3" cy="274.6" r="7.7"/><circle cx="840.2" cy="275.1" r="7.7"/><circle cx="840.9" cy="274.7" r="7.7"/><circle cx="841.7" cy="276.4" r="7.7"/><circle cx="842.5" cy="277.0" r="7.7"/><circle cx="843.2" cy="277.7" r="7.7"/><circle cx="844.0" cy="278.3" r="7.7"/><circle cx="844.8" cy="279.0" r="7.7"/><circle cx="845.5" cy="279.6" r="7.7"/><circle cx="846.3" cy="280.2" r="7.7"/><circle cx="847.1" cy="280.9" r="7.7"/><circle cx="847.8" cy="280.4" r="7.7"/><circle cx="848.6" cy="282.2" r="7.7"/><circle cx="849.4" cy="282.8" r="7.7"/><circle cx="850.1" cy="283.4" r="7.7"/><circle cx="850.9" cy="284.1" r="7.7"/><circle cx="851.7" cy="284.7" r="7.7"/><circle cx="852.4" cy="285.4" r="7.7"/><circle cx="853.1" cy="286.1" r="7.7"/><circle cx="853.8" cy="286.8" r="7.7"/><circle cx="854.6" cy="287.5" r="7.7"/><circle cx="855.3" cy="288.2" r="7.7"/><circle cx="856.0" cy="288.9" r="7.7"/><circle cx="856.7" cy="289.6" r="7.7"/><circle cx="857.4" cy="290.3" r="7.7"/><circle cx="858.1" cy="291.0" r="7.7"/><circle cx="858.9" cy="291.7" r="7.7"/><circle cx="859.6" cy="292.4" r="7.7"/><circle cx="860.3" cy="293.1" r="7.7"/><circle cx="861.0" cy="293.8" r="7.7"/><circle cx="861.7" cy="294.5" r="7.7"/><circle cx="862.4" cy="295.2" r="7.7"/><circle cx="863.2" cy="295.9" r="7.7"/><circle cx="863.8" cy="296.6" r="7.7"/><circle cx="864.4" cy="297.4" r="7.7"/><circle cx="865.0" cy="298.3" r="7.7"/><circle cx="865.6" cy="299.1" r="7.7"/><circle cx="866.2" cy="299.9" r="7.7"/><circle cx="866.7" cy="300.7" r="7.7"/><circle cx="867.3" cy="301.5" r="7.7"/><circle cx="867.9" cy="302.3" r="7.7"/><circle cx="868.5" cy="303.1" r="7.7"/><circle cx="869.1" cy="303.9" r="7.7"/><circle cx="869.7" cy="304.7" r="7.7"/><circle cx="870.3" cy="305.5" r="7.7"/><circle cx="870.8" cy="306.4" r="7.7"/><circle cx="871.4" cy="307.2" r="7.7"/><circle cx="872.0" cy="308.0" r="7.7"/><circle cx="872.6" cy="308.8" r="7.7"/><circle cx="873.2" cy="309.6" r="7.7"/><circle cx="873.8" cy="310.4" r="7.7"/><circle cx="874.4" cy="311.2" r="7.7"/><circle cx="874.9" cy="312.0" r="7.7"/><circle cx="875.5" cy="312.8" r="7.7"/><circle cx="876.1" cy="313.7" r="7.7"/><circle cx="876.4" cy="314.6" r="7.7"/><circle cx="876.8" cy="315.5" r="7.7"/><circle cx="877.2" cy="316.5" r="7.7"/><circle cx="877.5" cy="317.4" r="7.7"/><circle cx="877.9" cy="318.3" r="7.7"/><circle cx="878.3" cy="319.3" r="7.7"/><circle cx="878.6" cy="320.2" r="7.7"/><circle cx="879.0" cy="321.1" r="7.7"/><circle cx="879.4" cy="322.0" r="7.7"/><circle cx="879.7" cy="323.0" r="7.7"/><circle cx="880.1" cy="323.9" r="7.7"/><circle cx="880.5" cy="324.8" r="7.7"/><circle cx="880.8" cy="325.8" r="7.7"/><circle cx="881.2" cy="326.7" r="7.7"/><circle cx="881.6" cy="327.6" r="7.7"/><circle cx="881.9" cy="328.6" r="7.7"/><circle cx="882.3" cy="329.5" r="7.7"/><circle cx="882.6" cy="330.4" r="7.7"/><circle cx="882.8" cy="331.4" r="7.7"/><circle cx="882.9" cy="332.4" r="7.7"/><circle cx="883.1" cy="333.4" r="7.7"/><circle cx="883.3" cy="334.4" r="7.7"/><circle cx="883.5" cy="335.4" r="7.7"/><circle cx="883.6" cy="336.3" r="7.7"/><circle cx="883.8" cy="337.3" r="7.7"/><circle cx="884.0" cy="338.3" r="7.7"/><circle cx="884.2" cy="339.3" r="7.7"/><circle cx="884.4" cy="340.3" r="7.7"/><circle cx="884.5" cy="341.3" r="7.7"/><circle cx="884.7" cy="342.3" r="7.7"/><circle cx="884.9" cy="343.2" r="7.7"/><circle cx="885.1" cy="344.2" r="7.7"/><circle cx="885.2" cy="345.2" r="7.7"/><circle cx="885.5" cy="346.2" r="7.7"/><circle cx="885.7" cy="347.2" r="7.7"/><circle cx="885.9" cy="348.1" r="7.7"/><circle cx="886.1" cy="349.1" r="7.7"/><circle cx="886.4" cy="350.1" r="7.7"/><circle cx="886.6" cy="351.1" r="7.7"/><circle cx="886.8" cy="352.0" r="7.7"/><circle cx="887.0" cy="353.0" r="7.7"/><circle cx="887.3" cy="354.0" r="7.7"/><circle cx="887.5" cy="354.9" r="7.7"/><circle cx="887.7" cy="355.9" r="7.7"/><circle cx="888.0" cy="356.9" r="7.7"/><circle cx="888.2" cy="357.9" r="7.7"/><circle cx="888.4" cy="358.8" r="7.7"/><circle cx="888.6" cy="359.8" r="7.7"/><circle cx="888.9" cy="360.8" r="7.7"/><circle cx="889.1" cy="361.8" r="7.7"/><circle cx="889.2" cy="362.8" r="7.7"/><circle cx="889.4" cy="363.7" r="7.7"/><circle cx="889.6" cy="364.7" r="7.7"/><circle cx="889.8" cy="365.7" r="7.7"/><circle cx="890.0" cy="366.7" r="7.7"/><circle cx="890.2" cy="367.7" r="7.7"/><circle cx="890.4" cy="368.6" r="7.7"/><circle cx="890.6" cy="369.6" r="7.7"/><circle cx="890.8" cy="370.6" r="7.7"/><circle cx="891.0" cy="371.6" r="7.7"/><circle cx="891.2" cy="372.6" r="7.7"/><circle cx="891.3" cy="373.6" r="7.7"/><circle cx="891.5" cy="374.5" r="7.7"/><circle cx="891.7" cy="375.5" r="7.7"/><circle cx="891.9" cy="376.5" r="7.7"/><circle cx="892.1" cy="377.5" r="7.7"/><circle cx="892.3" cy="378.5" r="7.7"/><circle cx="892.5" cy="379.4" r="7.7"/><circle cx="892.7" cy="380.4" r="7.7"/><circle cx="892.9" cy="381.4" r="7.7"/><circle cx="893.1" cy="382.4" r="7.7"/><circle cx="893.2" cy="383.4" r="7.7"/><circle cx="893.4" cy="384.4" r="7.7"/><circle cx="893.6" cy="385.3" r="7.7"/><circle cx="893.8" cy="386.3" r="7.7"/><circle cx="893.9" cy="387.3" r="7.7"/><circle cx="894.1" cy="388.3" r="7.7"/><circle cx="894.3" cy="389.3" r="7.7"/><circle cx="894.5" cy="390.3" r="7.7"/><circle cx="894.6" cy="391.2" r="7.7"/><circle cx="894.8" cy="392.2" r="7.7"/><circle cx="895.0" cy="393.2" r="7.7"/><circle cx="895.2" cy="394.2" r="7.7"/><circle cx="895.4" cy="395.2" r="7.7"/><circle cx="895.5" cy="396.2" r="7.7"/><circle cx="895.7" cy="397.2" r="7.7"/><circle cx="895.9" cy="398.1" r="7.7"/><circle cx="896.1" cy="399.1" r="7.7"/><circle cx="896.2" cy="400.1" r="7.7"/><circle cx="896.4" cy="401.1" r="7.7"/><circle cx="896.7" cy="402.1" r="7.7"/><circle cx="896.9" cy="403.0" r="7.7"/><circle cx="897.1" cy="404.0" r="7.7"/><circle cx="897.3" cy="405.0" r="7.7"/><circle cx="897.6" cy="406.0" r="7.7"/><circle cx="897.8" cy="406.9" r="7.7"/><circle cx="898.0" cy="407.9" r="7.7"/><circle cx="898.3" cy="408.9" r="7.7"/><circle cx="898.5" cy="409.8" r="7.7"/><circle cx="898.7" cy="410.8" r="7.7"/><circle cx="899.0" cy="411.8" r="7.7"/><circle cx="899.2" cy="412.8" r="7.7"/><circle cx="899.4" cy="413.7" r="7.7"/><circle cx="899.7" cy="414.7" r="7.7"/><circle cx="899.9" cy="415.7" r="7.7"/><circle cx="900.1" cy="416.7" r="7.7"/><circle cx="900.4" cy="417.6" r="7.7"/><circle cx="900.7" cy="418.6" r="7.7"/><circle cx="901.0" cy="419.5" r="7.7"/><circle cx="901.3" cy="420.5" r="7.7"/><circle cx="901.6" cy="421.4" r="7.7"/><circle cx="902.0" cy="422.4" r="7.7"/><circle cx="902.3" cy="423.3" r="7.7"/><circle cx="902.6" cy="424.3" r="7.7"/><circle cx="902.9" cy="425.2" r="7.7"/><circle cx="903.2" cy="426.2" r="7.7"/><circle cx="903.6" cy="427.1" r="7.7"/><circle cx="904.2" cy="427.9" r="7.7"/><circle cx="904.7" cy="428.8" r="7.7"/><circle cx="905.2" cy="429.6" r="7.7"/><circle cx="905.7" cy="430.5" r="7.7"/><circle cx="906.3" cy="431.2" r="7.7"/><circle cx="907.2" cy="431.8" r="7.7"/><circle cx="908.0" cy="432.3" r="7.7"/><circle cx="908.8" cy="432.9" r="7.7"/><circle cx="909.7" cy="433.3" r="7.7"/><circle cx="910.7" cy="433.4" r="7.7"/><circle cx="911.7" cy="433.6" r="7.7"/><circle cx="912.7" cy="433.7" r="7.7"/><circle cx="913.7" cy="433.8" r="7.7"/><circle cx="914.5" cy="433.9" r="7.7"/></g>
<g stroke="#000" stroke-width="2.3" stroke-linecap="butt"><line x1="104.4" y1="5.4" x2="104.4" y2="436.0"/><line x1="532.0" y1="5.4" x2="532.0" y2="436.0"/><line x1="959.8" y1="5.4" x2="959.8" y2="436.0"/><line x1="103.2" y1="6.6" x2="960.9" y2="6.6"/><line x1="103.2" y1="434.9" x2="960.9" y2="434.9"/><line x1="104.4" y1="434.9" x2="112.6" y2="434.9"/><line x1="523.8" y1="434.9" x2="540.2" y2="434.9"/><line x1="951.6" y1="434.9" x2="959.8" y2="434.9"/><line x1="104.4" y1="369.0" x2="108.6" y2="369.0"/><line x1="527.8" y1="369.0" x2="536.2" y2="369.0"/><line x1="955.6" y1="369.0" x2="959.8" y2="369.0"/><line x1="104.4" y1="303.1" x2="112.6" y2="303.1"/><line x1="523.8" y1="303.1" x2="540.2" y2="303.1"/><line x1="951.6" y1="303.1" x2="959.8" y2="303.1"/><line x1="104.4" y1="237.1" x2="108.6" y2="237.1"/><line x1="527.8" y1="237.1" x2="536.2" y2="237.1"/><line x1="955.6" y1="237.1" x2="959.8" y2="237.1"/><line x1="104.4" y1="171.2" x2="112.6" y2="171.2"/><line x1="523.8" y1="171.2" x2="540.2" y2="171.2"/><line x1="951.6" y1="171.2" x2="959.8" y2="171.2"/><line x1="104.4" y1="105.3" x2="108.6" y2="105.3"/><line x1="527.8" y1="105.3" x2="536.2" y2="105.3"/><line x1="955.6" y1="105.3" x2="959.8" y2="105.3"/><line x1="104.4" y1="39.4" x2="112.6" y2="39.4"/><line x1="523.8" y1="39.4" x2="540.2" y2="39.4"/><line x1="951.6" y1="39.4" x2="959.8" y2="39.4"/><line x1="104.4" y1="434.9" x2="104.4" y2="426.7"/><line x1="104.4" y1="6.6" x2="104.4" y2="14.8"/><line x1="175.7" y1="434.9" x2="175.7" y2="430.7"/><line x1="175.7" y1="6.6" x2="175.7" y2="10.8"/><line x1="246.9" y1="434.9" x2="246.9" y2="426.7"/><line x1="246.9" y1="6.6" x2="246.9" y2="14.8"/><line x1="318.2" y1="434.9" x2="318.2" y2="430.7"/><line x1="318.2" y1="6.6" x2="318.2" y2="10.8"/><line x1="389.5" y1="434.9" x2="389.5" y2="426.7"/><line x1="389.5" y1="6.6" x2="389.5" y2="14.8"/><line x1="460.7" y1="434.9" x2="460.7" y2="430.7"/><line x1="460.7" y1="6.6" x2="460.7" y2="10.8"/><line x1="532.0" y1="434.9" x2="532.0" y2="426.7"/><line x1="532.0" y1="6.6" x2="532.0" y2="14.8"/><line x1="532.0" y1="434.9" x2="532.0" y2="426.7"/><line x1="532.0" y1="6.6" x2="532.0" y2="14.8"/><line x1="603.3" y1="434.9" x2="603.3" y2="430.7"/><line x1="603.3" y1="6.6" x2="603.3" y2="10.8"/><line x1="674.6" y1="434.9" x2="674.6" y2="426.7"/><line x1="674.6" y1="6.6" x2="674.6" y2="14.8"/><line x1="745.9" y1="434.9" x2="745.9" y2="430.7"/><line x1="745.9" y1="6.6" x2="745.9" y2="10.8"/><line x1="817.2" y1="434.9" x2="817.2" y2="426.7"/><line x1="817.2" y1="6.6" x2="817.2" y2="14.8"/><line x1="888.5" y1="434.9" x2="888.5" y2="430.7"/><line x1="888.5" y1="6.6" x2="888.5" y2="10.8"/><line x1="959.8" y1="434.9" x2="959.8" y2="426.7"/><line x1="959.8" y1="6.6" x2="959.8" y2="14.8"/><line x1="530.9" y1="516.7" x2="959.5" y2="516.7"/><line x1="532.0" y1="516.7" x2="532.0" y2="508.5"/><line x1="584.8" y1="516.7" x2="584.8" y2="512.5"/><line x1="637.6" y1="516.7" x2="637.6" y2="508.5"/><line x1="690.4" y1="516.7" x2="690.4" y2="512.5"/><line x1="743.2" y1="516.7" x2="743.2" y2="508.5"/><line x1="796.1" y1="516.7" x2="796.1" y2="512.5"/><line x1="848.9" y1="516.7" x2="848.9" y2="508.5"/><line x1="901.7" y1="516.7" x2="901.7" y2="512.5"/><line x1="954.5" y1="516.7" x2="954.5" y2="508.5"/></g>
<circle cx="358.7" cy="87.6" r="8.25" fill="#e67a78"/><circle cx="358.7" cy="119.2" r="8.25" fill="#b39ddb"/><rect x="132.05" y="369.3" width="16.1" height="16.1" fill="#b2b2b2"/><rect x="132.05" y="400.9" width="16.1" height="16.1" fill="#cbcbcb"/><polyline points="234,90.6 234,59.6 211.9,128.1" fill="none" stroke="#000" stroke-width="2.15" stroke-linejoin="bevel"/><polyline points="265.4,241.4 265.4,277 276.3,228.4" fill="none" stroke="#000" stroke-width="2.15" stroke-linejoin="bevel"/><polyline points="647.2,85 647.2,53.2 625.1,123.5" fill="none" stroke="#000" stroke-width="2.15" stroke-linejoin="bevel"/><polyline points="656.3,239 656.3,274.7 667.7,226.1" fill="none" stroke="#000" stroke-width="2.15" stroke-linejoin="bevel"/>
<g opacity="0.999" font-family="'Liberation Sans', Arial, sans-serif" fill="#000"><text x="95.2" y="442.7" text-anchor="end" font-weight="bold" font-size="22.7" stroke="#000" stroke-width="0.55" stroke-linejoin="round" textLength="12.0" lengthAdjust="spacingAndGlyphs">0</text><text x="95.2" y="310.9" text-anchor="end" font-weight="bold" font-size="22.7" stroke="#000" stroke-width="0.55" stroke-linejoin="round" textLength="36.0" lengthAdjust="spacingAndGlyphs">400</text><text x="95.2" y="179.0" text-anchor="end" font-weight="bold" font-size="22.7" stroke="#000" stroke-width="0.55" stroke-linejoin="round" textLength="36.0" lengthAdjust="spacingAndGlyphs">800</text><text x="95.2" y="47.2" text-anchor="end" font-weight="bold" font-size="22.7" stroke="#000" stroke-width="0.55" stroke-linejoin="round" textLength="48.1" lengthAdjust="spacingAndGlyphs">1200</text><text x="104.4" y="463.5" text-anchor="middle" font-weight="bold" font-size="22.7" stroke="#000" stroke-width="0.55" stroke-linejoin="round" textLength="12.0" lengthAdjust="spacingAndGlyphs">0</text><text x="246.9" y="463.5" text-anchor="middle" font-weight="bold" font-size="22.7" stroke="#000" stroke-width="0.55" stroke-linejoin="round" textLength="36.0" lengthAdjust="spacingAndGlyphs">200</text><text x="389.5" y="463.5" text-anchor="middle" font-weight="bold" font-size="22.7" stroke="#000" stroke-width="0.55" stroke-linejoin="round" textLength="36.0" lengthAdjust="spacingAndGlyphs">400</text><text x="532.0" y="463.5" text-anchor="middle" font-weight="bold" font-size="22.7" stroke="#000" stroke-width="0.55" stroke-linejoin="round" textLength="12.0" lengthAdjust="spacingAndGlyphs">0</text><text x="674.6" y="463.5" text-anchor="middle" font-weight="bold" font-size="22.7" stroke="#000" stroke-width="0.55" stroke-linejoin="round" textLength="36.0" lengthAdjust="spacingAndGlyphs">100</text><text x="817.2" y="463.5" text-anchor="middle" font-weight="bold" font-size="22.7" stroke="#000" stroke-width="0.55" stroke-linejoin="round" textLength="36.0" lengthAdjust="spacingAndGlyphs">200</text><text x="959.8" y="463.5" text-anchor="middle" font-weight="bold" font-size="22.7" stroke="#000" stroke-width="0.55" stroke-linejoin="round" textLength="36.0" lengthAdjust="spacingAndGlyphs">300</text><text x="532.0" y="545.9" text-anchor="middle" font-weight="bold" font-size="22.7" stroke="#000" stroke-width="0.55" stroke-linejoin="round" textLength="12.0" lengthAdjust="spacingAndGlyphs">0</text><text x="637.6" y="545.9" text-anchor="middle" font-weight="bold" font-size="22.7" stroke="#000" stroke-width="0.55" stroke-linejoin="round" textLength="60.1" lengthAdjust="spacingAndGlyphs">20000</text><text x="743.2" y="545.9" text-anchor="middle" font-weight="bold" font-size="22.7" stroke="#000" stroke-width="0.55" stroke-linejoin="round" textLength="60.1" lengthAdjust="spacingAndGlyphs">40000</text><text x="848.9" y="545.9" text-anchor="middle" font-weight="bold" font-size="22.7" stroke="#000" stroke-width="0.55" stroke-linejoin="round" textLength="60.1" lengthAdjust="spacingAndGlyphs">60000</text><text x="954.5" y="545.9" text-anchor="middle" font-weight="bold" font-size="22.7" stroke="#000" stroke-width="0.55" stroke-linejoin="round" textLength="60.1" lengthAdjust="spacingAndGlyphs">80000</text><text x="316.0" y="491.5" text-anchor="middle" font-size="26.8">Cycle</text><text x="737.5" y="491.5" text-anchor="middle" font-size="26.8">Equivalent Full Cycle</text><text x="734.6" y="572.6" text-anchor="middle" font-size="26.8">Capacity Throughput (mAh)</text><text transform="translate(24.2,220) rotate(-90)" text-anchor="middle" font-size="26.8">Stack Energy Density (Wh/L)</text><text x="116.6" y="32.6" text-anchor="start" font-weight="bold" font-size="30" textLength="14.4" lengthAdjust="spacingAndGlyphs">a</text><text x="543.0" y="35.2" text-anchor="start" font-weight="bold" font-size="30" textLength="17.2" lengthAdjust="spacingAndGlyphs">b</text><text x="338.3" y="42.2" text-anchor="start" font-size="25.3" textLength="166.1" lengthAdjust="spacingAndGlyphs">3.60-4.5 x2 cyc</text><text x="338.3" y="68.7" text-anchor="start" font-size="25.3" textLength="179.8" lengthAdjust="spacingAndGlyphs">3.75-4.5 x10 cyc</text><text x="386.3" y="96.3" text-anchor="start" font-size="25.3" textLength="54.7" lengthAdjust="spacingAndGlyphs">40°C</text><text x="386.3" y="127.5" text-anchor="start" font-size="25.3" textLength="54.7" lengthAdjust="spacingAndGlyphs">20°C</text><text x="120.3" y="359.2" text-anchor="start" font-size="25.3" textLength="175.3" lengthAdjust="spacingAndGlyphs">Optimized Li-ion</text><text x="168.1" y="385.8" text-anchor="start" font-size="25.3" textLength="54.7" lengthAdjust="spacingAndGlyphs">40°C</text><text x="168.1" y="417.8" text-anchor="start" font-size="25.3" textLength="54.7" lengthAdjust="spacingAndGlyphs">20°C</text><text x="171.0" y="53.9" text-anchor="start" font-size="23.4" textLength="100.5" lengthAdjust="spacingAndGlyphs">3.60-4.5 V</text><text x="214.6" y="297.9" text-anchor="start" font-size="23.4" textLength="101.5" lengthAdjust="spacingAndGlyphs">3.75-4.5 V</text><text x="584.5" y="48.5" text-anchor="start" font-size="23.4" textLength="102" lengthAdjust="spacingAndGlyphs">3.60-4.5 V</text><text x="605.0" y="295.1" text-anchor="start" font-size="22.9" textLength="102.5" lengthAdjust="spacingAndGlyphs">3.75-4.5 V</text></g>
</svg></body></html>
